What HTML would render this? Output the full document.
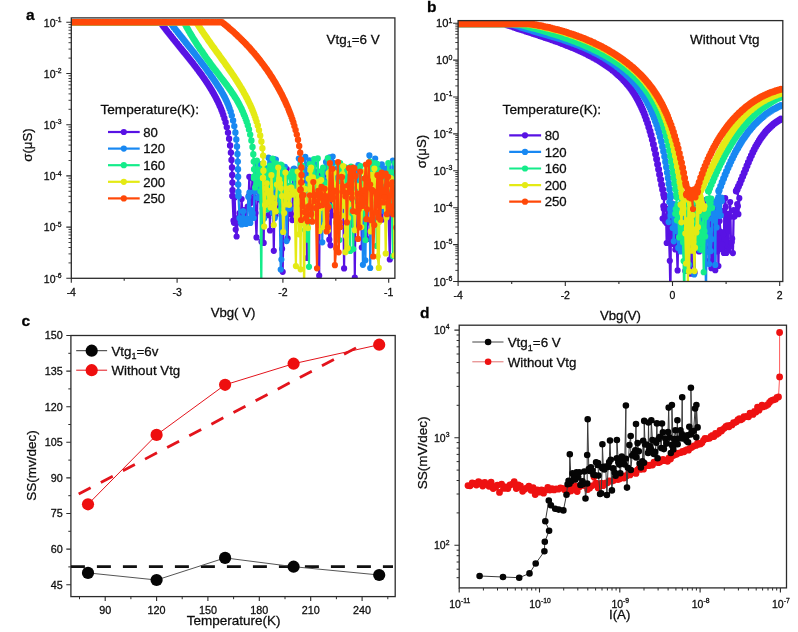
<!DOCTYPE html>
<html><head><meta charset="utf-8"><style>html,body{margin:0;padding:0;background:#fff}svg{display:block;filter:blur(0.4px)}</style></head><body>
<svg width="798" height="632" viewBox="0 0 798 632" font-family="Liberation Sans, sans-serif"><style>text{stroke:#0d0d0d;stroke-width:0.28px}</style>
<rect width="798" height="632" fill="#fff"/>
<defs><clipPath id="ca"><rect x="71.3" y="17.9" width="323.6" height="260.4"/></clipPath>
<clipPath id="cb"><rect x="458.1" y="20.6" width="324.7" height="260.9"/></clipPath>
<clipPath id="cc"><rect x="70.9" y="335.5" width="324.3" height="261.1"/></clipPath>
<clipPath id="cd"><rect x="459.2" y="325.2" width="327.3" height="262.7"/></clipPath></defs>
<g clip-path="url(#ca)">
<path d="M60 22.3 61.6 22.3 63.3 22.3 64.9 22.3 66.6 22.3 68.2 22.3 69.9 22.3 71.5 22.3 73.2 22.3 74.8 22.3 76.5 22.3 78.1 22.3 79.8 22.3 81.4 22.3 83.1 22.3 84.7 22.3 86.4 22.3 88 22.3 89.7 22.3 91.3 22.3 93 22.3 94.6 22.3 96.2 22.3 97.9 22.3 99.5 22.3 101.2 22.3 102.8 22.3 104.5 22.3 106.1 22.3 107.8 22.3 109.4 22.3 111.1 22.3 112.7 22.3 114.4 22.3 116 22.3 117.7 22.3 119.3 22.3 121 22.3 122.6 22.3 124.3 22.3 125.9 22.3 127.5 22.3 129.2 22.3 130.8 22.3 132.5 22.3 134.1 22.3 135.8 22.3 137.4 22.3 139.1 22.3 140.7 22.3 142.4 22.3 144 22.3 145.7 22.3 147.3 22.3 149 22.3 150.6 22.3 152.3 22.3 153.9 22.3 155.6 22.3 157.2 22.3 158.9 22.3 160.5 22.3 161.4 23.6 162.4 24.9 163.3 26.2 164.3 27.5 165.3 28.7 166.2 30 167.2 31.3 168.2 32.6 169.2 33.8 170.2 35.1 171.2 36.3 172.2 37.6 173.1 38.8 174.2 40.1 175.2 41.3 176.2 42.6 177.2 43.8 178.2 45.1 179.2 46.3 180.2 47.6 181.2 48.8 182.2 50 183.2 51.3 184.2 52.5 185.3 53.8 186.3 55 187.3 56.3 188.3 57.5 189.3 58.8 190.3 60 191.3 61.3 192.3 62.5 193.3 63.8 194.2 65.1 195.2 66.3 196.2 67.6 197.2 68.9 198.1 70.1 199.1 71.4 200 72.7 201 74 201.9 75.3 202.8 76.6 203.8 77.9 204.7 79.3 205.6 80.6 206.5 81.9 207.4 83.2 208.2 84.6 209.1 85.9 209.9 87.3 210.8 88.7 211.6 90 212.4 91.4 213.2 92.8 214 94.2 214.8 95.6 215.5 97 216.3 98.4 217 99.9 217.7 101.3 218.4 102.7 219.1 104.2 219.7 105.7 220.4 107.1 221 108.6 221.6 110.3 222.4 112.3 223.3 115 224.4 118.2 225.6 122.3 226.8 127.1 228 132.6 229.1 138.7 230.1 145.4 230.9 152.6 231.5 160 232 167.4 232.2 175 232.4 182.6 232.5 190.2 232.5 196" stroke="#5812e4" stroke-width="2.4" fill="none" stroke-linejoin="round" stroke-linecap="round" />
<path d="M60 22.3h0M61.6 22.3h0M63.3 22.3h0M64.9 22.3h0M66.6 22.3h0M68.2 22.3h0M69.9 22.3h0M71.5 22.3h0M73.2 22.3h0M74.8 22.3h0M76.5 22.3h0M78.1 22.3h0M79.8 22.3h0M81.4 22.3h0M83.1 22.3h0M84.7 22.3h0M86.4 22.3h0M88 22.3h0M89.7 22.3h0M91.3 22.3h0M93 22.3h0M94.6 22.3h0M96.2 22.3h0M97.9 22.3h0M99.5 22.3h0M101.2 22.3h0M102.8 22.3h0M104.5 22.3h0M106.1 22.3h0M107.8 22.3h0M109.4 22.3h0M111.1 22.3h0M112.7 22.3h0M114.4 22.3h0M116 22.3h0M117.7 22.3h0M119.3 22.3h0M121 22.3h0M122.6 22.3h0M124.3 22.3h0M125.9 22.3h0M127.5 22.3h0M129.2 22.3h0M130.8 22.3h0M132.5 22.3h0M134.1 22.3h0M135.8 22.3h0M137.4 22.3h0M139.1 22.3h0M140.7 22.3h0M142.4 22.3h0M144 22.3h0M145.7 22.3h0M147.3 22.3h0M149 22.3h0M150.6 22.3h0M152.3 22.3h0M153.9 22.3h0M155.6 22.3h0M157.2 22.3h0M158.9 22.3h0M160.5 22.3h0M161.4 23.6h0M162.4 24.9h0M163.3 26.2h0M164.3 27.5h0M165.3 28.7h0M166.2 30h0M167.2 31.3h0M168.2 32.6h0M169.2 33.8h0M170.2 35.1h0M171.2 36.3h0M172.2 37.6h0M173.1 38.8h0M174.2 40.1h0M175.2 41.3h0M176.2 42.6h0M177.2 43.8h0M178.2 45.1h0M179.2 46.3h0M180.2 47.6h0M181.2 48.8h0M182.2 50h0M183.2 51.3h0M184.2 52.5h0M185.3 53.8h0M186.3 55h0M187.3 56.3h0M188.3 57.5h0M189.3 58.8h0M190.3 60h0M191.3 61.3h0M192.3 62.5h0M193.3 63.8h0M194.2 65.1h0M195.2 66.3h0M196.2 67.6h0M197.2 68.9h0M198.1 70.1h0M199.1 71.4h0M200 72.7h0M201 74h0M201.9 75.3h0M202.8 76.6h0M203.8 77.9h0M204.7 79.3h0M205.6 80.6h0M206.5 81.9h0M207.4 83.2h0M208.2 84.6h0M209.1 85.9h0M209.9 87.3h0M210.8 88.7h0M211.6 90h0M212.4 91.4h0M213.2 92.8h0M214 94.2h0M214.8 95.6h0M215.5 97h0M216.3 98.4h0M217 99.9h0M217.7 101.3h0M218.4 102.7h0M219.1 104.2h0M219.7 105.7h0M220.4 107.1h0M221 108.6h0M221.6 110.3h0M222.4 112.3h0M223.3 115h0M224.4 118.2h0M225.6 122.3h0M226.8 127.1h0M228 132.6h0M229.1 138.7h0M230.1 145.4h0M230.9 152.6h0M231.5 160h0M232 167.4h0M232.2 175h0M232.4 182.6h0M232.5 190.2h0M232.5 196h0" stroke="#5812e4" stroke-width="6.4" stroke-linecap="round" fill="none"/>
<path d="M232.5 196 233.5 220.7 234 222.8 234.7 197.5 235.7 229.6 236.6 236.5 237.7 218 238.4 222.5 239 221.3 239.5 213 240.8 218.1 241.6 199.1 242.7 219.1 243.9 210.1 244.9 215.1 245.7 218.4 246.5 222.5 247.7 206.5 248.7 196.2 249.3 176.8 250.2 203.6 251.2 202.3 252.5 178.4 253.8 191.9 254.6 197.9 255.5 213.1 256.5 237.4 257.8 182.3 258.8 177.5 259.5 199.5 260 184.1 260.6 186.5 261.5 241.7 262.8 208.5 263.7 242.9 264.5 173.7 265.6 191.4 266.7 175.3 267.8 190.8 268.3 215.2 269 171.1 270 230.5 270.7 174.7 271.5 206 272 212.9 272.7 174.5 273.8 250.8 274.9 177.5 275.5 215.3 276.7 202.7 277.8 186.7 278.4 211 279.2 206.2 280.5 180.8 281 204.5 282.1 248.8 282.7 271.8 283.9 201.5 284.4 183.5 285.1 193.1 286.1 189.1 286.7 169 287.6 238.4 288.4 205.7 289.6 211.5 290.3 205.6 291.2 214.6 292.3 220.1 293.4 169.4 294.5 176.9 295.3 169.8 296.2 179.8 296.8 203.6 297.7 203.9 298.7 181.8 299.5 214.1 300.3 199.1 301.3 211.7 302.4 206 303.2 199.8 304.4 190.2 305 174 305.9 199.2 307 258 307.7 186.2 308.6 177.8 309.3 182.8 309.9 204.1 310.9 213.4 311.8 186 312.4 188.3 313.3 190.2 314 170.8 315.2 183.6 316.3 204.4 316.8 175.1 318.1 214.2 319.2 275.7 319.8 195.2 320.9 171.6 321.5 216.5 322.2 177.7 322.7 189.6 323.7 177.6 324.8 194.4 325.6 180.3 326.3 175.9 326.9 194 327.6 179.3 328.1 209.3 329.3 239.7 330.5 245.3 331.1 194.6 331.9 215.4 332.5 172.9 333.1 204.1 334.1 184 334.6 182.6 335.9 185.9 336.7 179.8 337.9 174.8 338.7 199.3 339.3 169.1 340 181.9 341.1 197.8 341.8 181.9 342.9 182.2 344.1 268.4 345.1 172.8 346.1 172.2 347.3 227.1 348.1 224.3 349 192.3 350.1 199.1 350.9 224.6 352 186.7 352.7 217.2 353.3 175.9 354 186.8 354.8 277.7 355.6 198.2 356.6 182.5 357.2 227 358.2 200 358.8 200.3 359.5 203.3 360 189.4 361.1 198.6 361.8 247.5 362.5 191.6 363.2 196.2 364.2 200.3 365.4 207.3 366.1 223 367.4 239.1 367.9 183.7 368.5 183.8 369.3 185.8 370.5 192.9 371.1 223.5 372.4 184.5 373.5 192.4 374.3 186 374.8 200 375.6 177.2 376.9 220.2 377.8 217.9 378.3 182.5 378.9 184.2 380 174.9 381.2 206.9 382.3 219.6 383.4 195.4 384.3 178.5 385.1 208.1 385.7 169.2 386.4 172 386.9 185.7 387.5 179.4 388.6 216.4 389.8 259.5 390.4 200.4 390.9 199.9 392 200.2 393 182.7 394.3 172.1 395.2 170.2 396.3 192.6 397.5 181.9 398.7 229.7" stroke="#5812e4" stroke-width="2.2" fill="none" stroke-linejoin="round" stroke-linecap="round" />
<path d="M232.5 196h0M233.5 220.7h0M234 222.8h0M234.7 197.5h0M235.7 229.6h0M236.6 236.5h0M237.7 218h0M238.4 222.5h0M239 221.3h0M239.5 213h0M240.8 218.1h0M241.6 199.1h0M242.7 219.1h0M243.9 210.1h0M244.9 215.1h0M245.7 218.4h0M246.5 222.5h0M247.7 206.5h0M248.7 196.2h0M249.3 176.8h0M250.2 203.6h0M251.2 202.3h0M252.5 178.4h0M253.8 191.9h0M254.6 197.9h0M255.5 213.1h0M256.5 237.4h0M257.8 182.3h0M258.8 177.5h0M259.5 199.5h0M260 184.1h0M260.6 186.5h0M261.5 241.7h0M262.8 208.5h0M263.7 242.9h0M264.5 173.7h0M265.6 191.4h0M266.7 175.3h0M267.8 190.8h0M268.3 215.2h0M269 171.1h0M270 230.5h0M270.7 174.7h0M271.5 206h0M272 212.9h0M272.7 174.5h0M273.8 250.8h0M274.9 177.5h0M275.5 215.3h0M276.7 202.7h0M277.8 186.7h0M278.4 211h0M279.2 206.2h0M280.5 180.8h0M281 204.5h0M282.1 248.8h0M282.7 271.8h0M283.9 201.5h0M284.4 183.5h0M285.1 193.1h0M286.1 189.1h0M286.7 169h0M287.6 238.4h0M288.4 205.7h0M289.6 211.5h0M290.3 205.6h0M291.2 214.6h0M292.3 220.1h0M293.4 169.4h0M294.5 176.9h0M295.3 169.8h0M296.2 179.8h0M296.8 203.6h0M297.7 203.9h0M298.7 181.8h0M299.5 214.1h0M300.3 199.1h0M301.3 211.7h0M302.4 206h0M303.2 199.8h0M304.4 190.2h0M305 174h0M305.9 199.2h0M307 258h0M307.7 186.2h0M308.6 177.8h0M309.3 182.8h0M309.9 204.1h0M310.9 213.4h0M311.8 186h0M312.4 188.3h0M313.3 190.2h0M314 170.8h0M315.2 183.6h0M316.3 204.4h0M316.8 175.1h0M318.1 214.2h0M319.2 275.7h0M319.8 195.2h0M320.9 171.6h0M321.5 216.5h0M322.2 177.7h0M322.7 189.6h0M323.7 177.6h0M324.8 194.4h0M325.6 180.3h0M326.3 175.9h0M326.9 194h0M327.6 179.3h0M328.1 209.3h0M329.3 239.7h0M330.5 245.3h0M331.1 194.6h0M331.9 215.4h0M332.5 172.9h0M333.1 204.1h0M334.1 184h0M334.6 182.6h0M335.9 185.9h0M336.7 179.8h0M337.9 174.8h0M338.7 199.3h0M339.3 169.1h0M340 181.9h0M341.1 197.8h0M341.8 181.9h0M342.9 182.2h0M344.1 268.4h0M345.1 172.8h0M346.1 172.2h0M347.3 227.1h0M348.1 224.3h0M349 192.3h0M350.1 199.1h0M350.9 224.6h0M352 186.7h0M352.7 217.2h0M353.3 175.9h0M354 186.8h0M354.8 277.7h0M355.6 198.2h0M356.6 182.5h0M357.2 227h0M358.2 200h0M358.8 200.3h0M359.5 203.3h0M360 189.4h0M361.1 198.6h0M361.8 247.5h0M362.5 191.6h0M363.2 196.2h0M364.2 200.3h0M365.4 207.3h0M366.1 223h0M367.4 239.1h0M367.9 183.7h0M368.5 183.8h0M369.3 185.8h0M370.5 192.9h0M371.1 223.5h0M372.4 184.5h0M373.5 192.4h0M374.3 186h0M374.8 200h0M375.6 177.2h0M376.9 220.2h0M377.8 217.9h0M378.3 182.5h0M378.9 184.2h0M380 174.9h0M381.2 206.9h0M382.3 219.6h0M383.4 195.4h0M384.3 178.5h0M385.1 208.1h0M385.7 169.2h0M386.4 172h0M386.9 185.7h0M387.5 179.4h0M388.6 216.4h0M389.8 259.5h0M390.4 200.4h0M390.9 199.9h0M392 200.2h0M393 182.7h0M394.3 172.1h0M395.2 170.2h0M396.3 192.6h0M397.5 181.9h0M398.7 229.7h0" stroke="#5812e4" stroke-width="6.2" stroke-linecap="round" fill="none"/>
<path d="M60 22.3 61.6 22.3 63.3 22.3 64.9 22.3 66.6 22.3 68.2 22.3 69.9 22.3 71.5 22.3 73.1 22.3 74.8 22.3 76.4 22.3 78.1 22.3 79.7 22.3 81.3 22.3 83 22.3 84.6 22.3 86.3 22.3 87.9 22.3 89.6 22.3 91.2 22.3 92.8 22.3 94.5 22.3 96.1 22.3 97.8 22.3 99.4 22.3 101 22.3 102.7 22.3 104.3 22.3 106 22.3 107.6 22.3 109.3 22.3 110.9 22.3 112.5 22.3 114.2 22.3 115.8 22.3 117.5 22.3 119.1 22.3 120.7 22.3 122.4 22.3 124 22.3 125.7 22.3 127.3 22.3 129 22.3 130.6 22.3 132.2 22.3 133.9 22.3 135.5 22.3 137.2 22.3 138.8 22.3 140.4 22.3 142.1 22.3 143.7 22.3 145.4 22.3 147 22.3 148.7 22.3 150.3 22.3 151.9 22.3 153.6 22.3 155.2 22.3 156.9 22.3 158.5 22.3 160.1 22.3 161.8 22.3 163.4 22.3 165.1 22.3 166.7 22.3 168.4 22.3 170 22.3 171 23.6 172 24.8 172.9 26.1 173.9 27.4 174.9 28.6 175.9 29.9 176.9 31.1 177.9 32.4 178.9 33.7 179.9 34.9 180.9 36.2 181.9 37.4 182.9 38.7 183.9 39.9 184.9 41.2 185.8 42.5 186.8 43.7 187.8 45 188.8 46.2 189.8 47.5 190.8 48.7 191.8 50 192.8 51.3 193.8 52.5 194.8 53.8 195.7 55.1 196.7 56.3 197.7 57.6 198.7 58.9 199.7 60.1 200.6 61.4 201.6 62.7 202.5 64 203.5 65.3 204.5 66.6 205.4 67.8 206.4 69.1 207.3 70.4 208.2 71.7 209.2 73 210.1 74.3 211 75.7 211.9 77 212.9 78.3 213.8 79.6 214.7 80.9 215.6 82.3 216.5 83.6 217.3 84.9 218.2 86.3 219.1 87.6 219.9 89 220.8 90.3 221.6 91.7 222.4 93.1 223.2 94.5 224 95.9 224.7 97.3 225.4 98.7 226.1 100.2 226.8 101.6 227.4 103.1 228.1 104.6 228.8 106.5 229.6 108.7 230.7 111.7 231.8 115.6 233.1 120.4 234.3 126.1 235.4 132.4 236.3 139.4 237 146.5 237.5 153.9 237.8 161.6 238 169.2 238.1 176.8 238.2 184.4 238.4 192 238.5 196" stroke="#1888f2" stroke-width="2.4" fill="none" stroke-linejoin="round" stroke-linecap="round" />
<path d="M60 22.3h0M61.6 22.3h0M63.3 22.3h0M64.9 22.3h0M66.6 22.3h0M68.2 22.3h0M69.9 22.3h0M71.5 22.3h0M73.1 22.3h0M74.8 22.3h0M76.4 22.3h0M78.1 22.3h0M79.7 22.3h0M81.3 22.3h0M83 22.3h0M84.6 22.3h0M86.3 22.3h0M87.9 22.3h0M89.6 22.3h0M91.2 22.3h0M92.8 22.3h0M94.5 22.3h0M96.1 22.3h0M97.8 22.3h0M99.4 22.3h0M101 22.3h0M102.7 22.3h0M104.3 22.3h0M106 22.3h0M107.6 22.3h0M109.3 22.3h0M110.9 22.3h0M112.5 22.3h0M114.2 22.3h0M115.8 22.3h0M117.5 22.3h0M119.1 22.3h0M120.7 22.3h0M122.4 22.3h0M124 22.3h0M125.7 22.3h0M127.3 22.3h0M129 22.3h0M130.6 22.3h0M132.2 22.3h0M133.9 22.3h0M135.5 22.3h0M137.2 22.3h0M138.8 22.3h0M140.4 22.3h0M142.1 22.3h0M143.7 22.3h0M145.4 22.3h0M147 22.3h0M148.7 22.3h0M150.3 22.3h0M151.9 22.3h0M153.6 22.3h0M155.2 22.3h0M156.9 22.3h0M158.5 22.3h0M160.1 22.3h0M161.8 22.3h0M163.4 22.3h0M165.1 22.3h0M166.7 22.3h0M168.4 22.3h0M170 22.3h0M171 23.6h0M172 24.8h0M172.9 26.1h0M173.9 27.4h0M174.9 28.6h0M175.9 29.9h0M176.9 31.1h0M177.9 32.4h0M178.9 33.7h0M179.9 34.9h0M180.9 36.2h0M181.9 37.4h0M182.9 38.7h0M183.9 39.9h0M184.9 41.2h0M185.8 42.5h0M186.8 43.7h0M187.8 45h0M188.8 46.2h0M189.8 47.5h0M190.8 48.7h0M191.8 50h0M192.8 51.3h0M193.8 52.5h0M194.8 53.8h0M195.7 55.1h0M196.7 56.3h0M197.7 57.6h0M198.7 58.9h0M199.7 60.1h0M200.6 61.4h0M201.6 62.7h0M202.5 64h0M203.5 65.3h0M204.5 66.6h0M205.4 67.8h0M206.4 69.1h0M207.3 70.4h0M208.2 71.7h0M209.2 73h0M210.1 74.3h0M211 75.7h0M211.9 77h0M212.9 78.3h0M213.8 79.6h0M214.7 80.9h0M215.6 82.3h0M216.5 83.6h0M217.3 84.9h0M218.2 86.3h0M219.1 87.6h0M219.9 89h0M220.8 90.3h0M221.6 91.7h0M222.4 93.1h0M223.2 94.5h0M224 95.9h0M224.7 97.3h0M225.4 98.7h0M226.1 100.2h0M226.8 101.6h0M227.4 103.1h0M228.1 104.6h0M228.8 106.5h0M229.6 108.7h0M230.7 111.7h0M231.8 115.6h0M233.1 120.4h0M234.3 126.1h0M235.4 132.4h0M236.3 139.4h0M237 146.5h0M237.5 153.9h0M237.8 161.6h0M238 169.2h0M238.1 176.8h0M238.2 184.4h0M238.4 192h0M238.5 196h0" stroke="#1888f2" stroke-width="6.4" stroke-linecap="round" fill="none"/>
<path d="M238.5 196 239.5 218.2 240.8 222.6 241.7 224.4 242.8 211.3 243.3 211.3 244.6 219.3 245.1 220.4 246 224 247.3 218.7 248.4 197 249.4 192.7 250.3 222.9 251.4 210 252.7 213.2 253.7 218 254.5 191.4 255.3 161 256.6 176.4 257.2 185.3 257.9 197.9 258.5 189.7 259.1 170.9 260.1 164 261.1 194.4 262.2 202.1 263.2 181.7 264.1 218.4 264.6 201.8 265.2 168 266 173.5 266.6 186.2 267.2 182.3 268.5 157.7 269.7 194.9 270.9 160 271.7 179.8 272.8 213.1 274 159 274.8 218 275.9 159.5 276.5 199.9 277.4 166.8 278.2 189.2 278.8 196.6 279.4 192 280.7 269.5 281.4 259.5 282.1 195.3 283.4 175.9 284.1 196.7 284.9 166.8 285.8 194.3 286.6 241.1 287.7 199.2 288.9 207.5 289.9 208.7 290.5 187.7 291.7 192.4 292.3 189.4 293.4 193.1 294.1 168.5 294.7 172.9 295.9 171.2 297 174 298.3 183.2 298.8 158.5 299.9 176.5 300.8 191 301.5 184.1 302.3 190.9 303.4 176.9 304.6 169.4 305.3 156.8 306.4 193.2 307.1 202 308 213.2 308.6 164.1 309.5 160.3 310 163.9 311 191.5 311.8 208.8 312.8 178.7 313.7 160.2 314.4 175 315 164.4 316.2 191.1 317.3 211.1 318 202.5 318.6 190 319.7 196.5 320.4 204 321.1 180.1 321.7 192.6 322.3 242.3 323 173.2 323.8 179.5 324.8 168.5 326 162.1 326.8 161.4 327.3 160.6 327.9 205.2 328.6 170.1 329.6 157.3 330.6 174.5 331.7 191.2 332.7 156.5 333.2 162.8 334.3 179.5 335.4 200.4 336.2 176 337.4 168.5 338.3 169.7 339 182.2 339.5 177.5 340.5 182.6 341.3 182.8 341.9 215.1 342.9 177.8 343.9 194.6 345 194.4 346.1 169.4 347 186.9 348 175.4 349 172.7 349.6 176 350.2 174.2 351.4 177.2 352.3 201.4 353.4 171.8 354.2 168.4 355.1 183.1 355.8 175.9 356.8 173.1 357.4 206.2 358.3 165 359.4 170.1 360.7 211.3 361.3 206.4 362 179.3 362.9 264.8 364.2 187.7 365.4 260.3 366.4 195.6 367.5 197.1 368.5 205.5 369.4 155.4 370.2 268 371.5 191 372.5 190.1 373.6 194.1 374.7 179.5 375.2 158.5 376.2 165.6 377.2 174.3 378.3 219.9 379.1 168.5 380.2 184.8 381 179.9 381.8 164.4 382.9 190.7 383.6 210.9 384.1 175.7 384.9 195.4 385.9 168.5 387.1 181.8 388.1 211.4 388.6 167.3 389.9 199.8 390.8 171.8 392.1 174.4 392.9 160.5 393.4 200.5 394.4 175.5 395.4 205.1 396.1 197.9 397.2 185.8 398 257.3" stroke="#1888f2" stroke-width="2.2" fill="none" stroke-linejoin="round" stroke-linecap="round" />
<path d="M238.5 196h0M239.5 218.2h0M240.8 222.6h0M241.7 224.4h0M242.8 211.3h0M243.3 211.3h0M244.6 219.3h0M245.1 220.4h0M246 224h0M247.3 218.7h0M248.4 197h0M249.4 192.7h0M250.3 222.9h0M251.4 210h0M252.7 213.2h0M253.7 218h0M254.5 191.4h0M255.3 161h0M256.6 176.4h0M257.2 185.3h0M257.9 197.9h0M258.5 189.7h0M259.1 170.9h0M260.1 164h0M261.1 194.4h0M262.2 202.1h0M263.2 181.7h0M264.1 218.4h0M264.6 201.8h0M265.2 168h0M266 173.5h0M266.6 186.2h0M267.2 182.3h0M268.5 157.7h0M269.7 194.9h0M270.9 160h0M271.7 179.8h0M272.8 213.1h0M274 159h0M274.8 218h0M275.9 159.5h0M276.5 199.9h0M277.4 166.8h0M278.2 189.2h0M278.8 196.6h0M279.4 192h0M280.7 269.5h0M281.4 259.5h0M282.1 195.3h0M283.4 175.9h0M284.1 196.7h0M284.9 166.8h0M285.8 194.3h0M286.6 241.1h0M287.7 199.2h0M288.9 207.5h0M289.9 208.7h0M290.5 187.7h0M291.7 192.4h0M292.3 189.4h0M293.4 193.1h0M294.1 168.5h0M294.7 172.9h0M295.9 171.2h0M297 174h0M298.3 183.2h0M298.8 158.5h0M299.9 176.5h0M300.8 191h0M301.5 184.1h0M302.3 190.9h0M303.4 176.9h0M304.6 169.4h0M305.3 156.8h0M306.4 193.2h0M307.1 202h0M308 213.2h0M308.6 164.1h0M309.5 160.3h0M310 163.9h0M311 191.5h0M311.8 208.8h0M312.8 178.7h0M313.7 160.2h0M314.4 175h0M315 164.4h0M316.2 191.1h0M317.3 211.1h0M318 202.5h0M318.6 190h0M319.7 196.5h0M320.4 204h0M321.1 180.1h0M321.7 192.6h0M322.3 242.3h0M323 173.2h0M323.8 179.5h0M324.8 168.5h0M326 162.1h0M326.8 161.4h0M327.3 160.6h0M327.9 205.2h0M328.6 170.1h0M329.6 157.3h0M330.6 174.5h0M331.7 191.2h0M332.7 156.5h0M333.2 162.8h0M334.3 179.5h0M335.4 200.4h0M336.2 176h0M337.4 168.5h0M338.3 169.7h0M339 182.2h0M339.5 177.5h0M340.5 182.6h0M341.3 182.8h0M341.9 215.1h0M342.9 177.8h0M343.9 194.6h0M345 194.4h0M346.1 169.4h0M347 186.9h0M348 175.4h0M349 172.7h0M349.6 176h0M350.2 174.2h0M351.4 177.2h0M352.3 201.4h0M353.4 171.8h0M354.2 168.4h0M355.1 183.1h0M355.8 175.9h0M356.8 173.1h0M357.4 206.2h0M358.3 165h0M359.4 170.1h0M360.7 211.3h0M361.3 206.4h0M362 179.3h0M362.9 264.8h0M364.2 187.7h0M365.4 260.3h0M366.4 195.6h0M367.5 197.1h0M368.5 205.5h0M369.4 155.4h0M370.2 268h0M371.5 191h0M372.5 190.1h0M373.6 194.1h0M374.7 179.5h0M375.2 158.5h0M376.2 165.6h0M377.2 174.3h0M378.3 219.9h0M379.1 168.5h0M380.2 184.8h0M381 179.9h0M381.8 164.4h0M382.9 190.7h0M383.6 210.9h0M384.1 175.7h0M384.9 195.4h0M385.9 168.5h0M387.1 181.8h0M388.1 211.4h0M388.6 167.3h0M389.9 199.8h0M390.8 171.8h0M392.1 174.4h0M392.9 160.5h0M393.4 200.5h0M394.4 175.5h0M395.4 205.1h0M396.1 197.9h0M397.2 185.8h0M398 257.3h0" stroke="#1888f2" stroke-width="6.2" stroke-linecap="round" fill="none"/>
<path d="M60 22.3 61.6 22.3 63.3 22.3 64.9 22.3 66.5 22.3 68.2 22.3 69.8 22.3 71.4 22.3 73.1 22.3 74.7 22.3 76.3 22.3 77.9 22.3 79.6 22.3 81.2 22.3 82.8 22.3 84.5 22.3 86.1 22.3 87.7 22.3 89.4 22.3 91 22.3 92.6 22.3 94.3 22.3 95.9 22.3 97.5 22.3 99.2 22.3 100.8 22.3 102.4 22.3 104.1 22.3 105.7 22.3 107.3 22.3 108.9 22.3 110.6 22.3 112.2 22.3 113.8 22.3 115.5 22.3 117.1 22.3 118.7 22.3 120.4 22.3 122 22.3 123.6 22.3 125.3 22.3 126.9 22.3 128.5 22.3 130.2 22.3 131.8 22.3 133.4 22.3 135.1 22.3 136.7 22.3 138.3 22.3 139.9 22.3 141.6 22.3 143.2 22.3 144.8 22.3 146.5 22.3 148.1 22.3 149.7 22.3 151.4 22.3 153 22.3 154.6 22.3 156.3 22.3 157.9 22.3 159.5 22.3 161.2 22.3 162.8 22.3 164.4 22.3 166.1 22.3 167.7 22.3 169.3 22.3 170.9 22.3 172.6 22.3 174.2 22.3 175.8 22.3 177.5 22.3 179.1 22.3 180.7 22.3 182.4 22.3 184 22.3 184.8 23.7 185.5 25.1 186.3 26.5 187.1 27.9 187.9 29.3 188.7 30.7 189.5 32.1 190.3 33.5 191.1 34.8 192 36.2 192.8 37.6 193.6 38.9 194.5 40.3 195.4 41.7 196.2 43 197.1 44.4 198 45.7 198.9 47 199.7 48.4 200.6 49.7 201.6 51 202.5 52.3 203.4 53.7 204.3 55 205.2 56.3 206.1 57.6 207.1 58.9 208 60.2 209 61.5 209.9 62.8 210.9 64.1 211.8 65.4 212.8 66.7 213.7 67.9 214.7 69.2 215.7 70.5 216.6 71.8 217.6 73 218.6 74.3 219.6 75.6 220.5 76.9 221.5 78.1 222.5 79.4 223.5 80.7 224.4 82 225.4 83.2 226.3 84.5 227.3 85.8 228.2 87.1 229.2 88.4 230.1 89.7 231 91 231.9 92.4 232.8 93.7 233.7 95 234.6 96.4 235.4 97.8 236.3 99.1 237.1 100.5 237.9 101.9 238.6 103.3 239.4 104.7 240.1 106.1 240.9 107.6 241.6 109 242.2 110.5 242.9 111.9 243.5 113.4 244.1 114.9 244.9 116.7 245.7 119 246.7 121.8 247.8 125.3 249 129.5 250.2 134.6 251.4 140.5 252.5 147 253.3 154.2 253.8 161.6 254.1 169.2 254 176.8 254 178" stroke="#14ec8a" stroke-width="2.4" fill="none" stroke-linejoin="round" stroke-linecap="round" />
<path d="M60 22.3h0M61.6 22.3h0M63.3 22.3h0M64.9 22.3h0M66.5 22.3h0M68.2 22.3h0M69.8 22.3h0M71.4 22.3h0M73.1 22.3h0M74.7 22.3h0M76.3 22.3h0M77.9 22.3h0M79.6 22.3h0M81.2 22.3h0M82.8 22.3h0M84.5 22.3h0M86.1 22.3h0M87.7 22.3h0M89.4 22.3h0M91 22.3h0M92.6 22.3h0M94.3 22.3h0M95.9 22.3h0M97.5 22.3h0M99.2 22.3h0M100.8 22.3h0M102.4 22.3h0M104.1 22.3h0M105.7 22.3h0M107.3 22.3h0M108.9 22.3h0M110.6 22.3h0M112.2 22.3h0M113.8 22.3h0M115.5 22.3h0M117.1 22.3h0M118.7 22.3h0M120.4 22.3h0M122 22.3h0M123.6 22.3h0M125.3 22.3h0M126.9 22.3h0M128.5 22.3h0M130.2 22.3h0M131.8 22.3h0M133.4 22.3h0M135.1 22.3h0M136.7 22.3h0M138.3 22.3h0M139.9 22.3h0M141.6 22.3h0M143.2 22.3h0M144.8 22.3h0M146.5 22.3h0M148.1 22.3h0M149.7 22.3h0M151.4 22.3h0M153 22.3h0M154.6 22.3h0M156.3 22.3h0M157.9 22.3h0M159.5 22.3h0M161.2 22.3h0M162.8 22.3h0M164.4 22.3h0M166.1 22.3h0M167.7 22.3h0M169.3 22.3h0M170.9 22.3h0M172.6 22.3h0M174.2 22.3h0M175.8 22.3h0M177.5 22.3h0M179.1 22.3h0M180.7 22.3h0M182.4 22.3h0M184 22.3h0M184.8 23.7h0M185.5 25.1h0M186.3 26.5h0M187.1 27.9h0M187.9 29.3h0M188.7 30.7h0M189.5 32.1h0M190.3 33.5h0M191.1 34.8h0M192 36.2h0M192.8 37.6h0M193.6 38.9h0M194.5 40.3h0M195.4 41.7h0M196.2 43h0M197.1 44.4h0M198 45.7h0M198.9 47h0M199.7 48.4h0M200.6 49.7h0M201.6 51h0M202.5 52.3h0M203.4 53.7h0M204.3 55h0M205.2 56.3h0M206.1 57.6h0M207.1 58.9h0M208 60.2h0M209 61.5h0M209.9 62.8h0M210.9 64.1h0M211.8 65.4h0M212.8 66.7h0M213.7 67.9h0M214.7 69.2h0M215.7 70.5h0M216.6 71.8h0M217.6 73h0M218.6 74.3h0M219.6 75.6h0M220.5 76.9h0M221.5 78.1h0M222.5 79.4h0M223.5 80.7h0M224.4 82h0M225.4 83.2h0M226.3 84.5h0M227.3 85.8h0M228.2 87.1h0M229.2 88.4h0M230.1 89.7h0M231 91h0M231.9 92.4h0M232.8 93.7h0M233.7 95h0M234.6 96.4h0M235.4 97.8h0M236.3 99.1h0M237.1 100.5h0M237.9 101.9h0M238.6 103.3h0M239.4 104.7h0M240.1 106.1h0M240.9 107.6h0M241.6 109h0M242.2 110.5h0M242.9 111.9h0M243.5 113.4h0M244.1 114.9h0M244.9 116.7h0M245.7 119h0M246.7 121.8h0M247.8 125.3h0M249 129.5h0M250.2 134.6h0M251.4 140.5h0M252.5 147h0M253.3 154.2h0M253.8 161.6h0M254.1 169.2h0M254 176.8h0M254 178h0" stroke="#14ec8a" stroke-width="6.4" stroke-linecap="round" fill="none"/>
<path d="M254 178 255.1 187.4 256.1 185.2 256.9 160.5 257.8 183.4 258.6 174.1 259.3 169.9 260.4 191.2 261.3 285.1 262 175.3 263.1 165.1 264.2 171.9 264.8 170.5 266 170.4 266.5 181.6 267 209.4 268.1 174.7 268.7 185.1 269.2 183.2 269.9 165.5 271.1 201.1 272 188 272.6 158.5 273.6 169.7 274.8 185.5 276 163.4 276.6 180.8 277.8 194.7 278.7 179.3 279.7 210.4 280.8 164.6 281.6 165 282.3 184.6 282.8 190.7 283.6 169.7 284.6 182.2 285.8 200.4 286.5 191.1 287.5 173.9 288.3 175.6 289.5 176.4 290.1 185.5 291.4 174.5 292.7 171.5 293.7 178 294.2 177.2 295.1 194.8 296.4 202.8 297.2 220.7 297.9 174.2 298.7 179.3 299.9 171.2 300.6 164.8 301.2 171.6 302.2 165.9 303.5 199.4 304.3 186.3 305 229.9 305.6 216.2 306.1 237.6 306.9 239.7 308.2 206.9 309 266.8 309.7 164.2 310.5 176.7 311.7 164 312.7 175.6 313.3 167.1 314.1 159.1 315.1 189.6 315.8 195.9 317 184.4 317.8 158.4 318.8 212.2 319.3 178.7 320.5 197.6 321.2 180.3 321.7 171.1 322.4 207.6 323.1 167.6 324 194.4 324.9 183.1 326 199 327.2 231 327.8 158.2 328.7 205.7 329.2 183.8 330 184.6 330.9 167.7 332.1 175.9 333.1 190.8 334.4 206 335.2 185.1 336.3 182.9 337.1 204.7 337.9 163.6 338.7 202.5 339.4 240 340.2 163 341.3 180.7 342 180.3 343.2 168.2 344.3 187.3 345.3 167.3 345.8 169.8 347.1 187.4 348.1 188.2 349.2 169 350.2 250.9 351 166.7 351.5 168.7 352.4 187.9 353.3 249 353.9 184.7 354.9 175.6 355.7 184.9 356.8 198.9 357.6 200.8 358.9 198.5 359.8 167.6 360.6 166.1 361.8 190.1 362.7 183.5 363.5 215.3 364.3 186.1 365.6 240 366.6 169.9 367.4 206.9 368.6 178.6 369.2 167.2 370.1 161.6 371.3 201 371.8 188 373 166.2 373.9 168.6 374.6 212.3 375.1 163.1 376 174.9 376.7 245.9 377.2 163.8 378 169.9 378.7 172.6 379.5 195.2 380.2 181.5 380.8 198 381.5 172.6 382 200.4 383.1 192.1 383.8 174.7 384.9 187.2 386.1 189.4 387.1 186.4 388.3 163.2 389.4 203.8 390.1 192 391.2 172 391.8 205.9 393 256.2 393.9 186.5 395.1 163.1 396.1 249.3 396.8 175.5 397.6 197.7 398.1 182.7" stroke="#14ec8a" stroke-width="2.2" fill="none" stroke-linejoin="round" stroke-linecap="round" />
<path d="M254 178h0M255.1 187.4h0M256.1 185.2h0M256.9 160.5h0M257.8 183.4h0M258.6 174.1h0M259.3 169.9h0M260.4 191.2h0M262 175.3h0M263.1 165.1h0M264.2 171.9h0M264.8 170.5h0M266 170.4h0M266.5 181.6h0M267 209.4h0M268.1 174.7h0M268.7 185.1h0M269.2 183.2h0M269.9 165.5h0M271.1 201.1h0M272 188h0M272.6 158.5h0M273.6 169.7h0M274.8 185.5h0M276 163.4h0M276.6 180.8h0M277.8 194.7h0M278.7 179.3h0M279.7 210.4h0M280.8 164.6h0M281.6 165h0M282.3 184.6h0M282.8 190.7h0M283.6 169.7h0M284.6 182.2h0M285.8 200.4h0M286.5 191.1h0M287.5 173.9h0M288.3 175.6h0M289.5 176.4h0M290.1 185.5h0M291.4 174.5h0M292.7 171.5h0M293.7 178h0M294.2 177.2h0M295.1 194.8h0M296.4 202.8h0M297.2 220.7h0M297.9 174.2h0M298.7 179.3h0M299.9 171.2h0M300.6 164.8h0M301.2 171.6h0M302.2 165.9h0M303.5 199.4h0M304.3 186.3h0M305 229.9h0M305.6 216.2h0M306.1 237.6h0M306.9 239.7h0M308.2 206.9h0M309 266.8h0M309.7 164.2h0M310.5 176.7h0M311.7 164h0M312.7 175.6h0M313.3 167.1h0M314.1 159.1h0M315.1 189.6h0M315.8 195.9h0M317 184.4h0M317.8 158.4h0M318.8 212.2h0M319.3 178.7h0M320.5 197.6h0M321.2 180.3h0M321.7 171.1h0M322.4 207.6h0M323.1 167.6h0M324 194.4h0M324.9 183.1h0M326 199h0M327.2 231h0M327.8 158.2h0M328.7 205.7h0M329.2 183.8h0M330 184.6h0M330.9 167.7h0M332.1 175.9h0M333.1 190.8h0M334.4 206h0M335.2 185.1h0M336.3 182.9h0M337.1 204.7h0M337.9 163.6h0M338.7 202.5h0M339.4 240h0M340.2 163h0M341.3 180.7h0M342 180.3h0M343.2 168.2h0M344.3 187.3h0M345.3 167.3h0M345.8 169.8h0M347.1 187.4h0M348.1 188.2h0M349.2 169h0M350.2 250.9h0M351 166.7h0M351.5 168.7h0M352.4 187.9h0M353.3 249h0M353.9 184.7h0M354.9 175.6h0M355.7 184.9h0M356.8 198.9h0M357.6 200.8h0M358.9 198.5h0M359.8 167.6h0M360.6 166.1h0M361.8 190.1h0M362.7 183.5h0M363.5 215.3h0M364.3 186.1h0M365.6 240h0M366.6 169.9h0M367.4 206.9h0M368.6 178.6h0M369.2 167.2h0M370.1 161.6h0M371.3 201h0M371.8 188h0M373 166.2h0M373.9 168.6h0M374.6 212.3h0M375.1 163.1h0M376 174.9h0M376.7 245.9h0M377.2 163.8h0M378 169.9h0M378.7 172.6h0M379.5 195.2h0M380.2 181.5h0M380.8 198h0M381.5 172.6h0M382 200.4h0M383.1 192.1h0M383.8 174.7h0M384.9 187.2h0M386.1 189.4h0M387.1 186.4h0M388.3 163.2h0M389.4 203.8h0M390.1 192h0M391.2 172h0M391.8 205.9h0M393 256.2h0M393.9 186.5h0M395.1 163.1h0M396.1 249.3h0M396.8 175.5h0M397.6 197.7h0M398.1 182.7h0" stroke="#14ec8a" stroke-width="6.2" stroke-linecap="round" fill="none"/>
<path d="M60 22.3 61.6 22.3 63.2 22.3 64.9 22.3 66.5 22.3 68.1 22.3 69.8 22.3 71.4 22.3 73 22.3 74.6 22.3 76.2 22.3 77.9 22.3 79.5 22.3 81.1 22.3 82.8 22.3 84.4 22.3 86 22.3 87.6 22.3 89.2 22.3 90.9 22.3 92.5 22.3 94.1 22.3 95.8 22.3 97.4 22.3 99 22.3 100.6 22.3 102.2 22.3 103.9 22.3 105.5 22.3 107.1 22.3 108.8 22.3 110.4 22.3 112 22.3 113.6 22.3 115.2 22.3 116.9 22.3 118.5 22.3 120.1 22.3 121.8 22.3 123.4 22.3 125 22.3 126.6 22.3 128.2 22.3 129.9 22.3 131.5 22.3 133.1 22.3 134.8 22.3 136.4 22.3 138 22.3 139.6 22.3 141.2 22.3 142.9 22.3 144.5 22.3 146.1 22.3 147.8 22.3 149.4 22.3 151 22.3 152.6 22.3 154.2 22.3 155.9 22.3 157.5 22.3 159.1 22.3 160.8 22.3 162.4 22.3 164 22.3 165.6 22.3 167.2 22.3 168.9 22.3 170.5 22.3 172.1 22.3 173.8 22.3 175.4 22.3 177 22.3 178.6 22.3 180.2 22.3 181.9 22.3 183.5 22.3 185.1 22.3 186.8 22.3 188.4 22.3 190 22.3 191.6 22.3 193.2 22.3 194.9 22.3 196.5 22.3 197.3 23.7 198.2 25 199.1 26.4 199.9 27.7 200.8 29.1 201.7 30.4 202.6 31.7 203.5 33.1 204.4 34.4 205.3 35.7 206.2 37 207.1 38.3 208 39.7 208.9 41 209.9 42.3 210.8 43.6 211.7 44.9 212.6 46.2 213.6 47.5 214.5 48.8 215.4 50.1 216.4 51.4 217.3 52.7 218.3 54 219.2 55.3 220.1 56.6 221.1 57.9 222 59.2 222.9 60.5 223.9 61.8 224.8 63.1 225.7 64.4 226.6 65.7 227.6 67 228.5 68.4 229.4 69.7 230.3 71 231.2 72.3 232.1 73.6 233 75 233.9 76.3 234.8 77.6 235.6 79 236.5 80.3 237.4 81.7 238.2 83 239.1 84.4 239.9 85.8 240.7 87.1 241.6 88.5 242.4 89.9 243.2 91.3 243.9 92.7 244.7 94.1 245.5 95.5 246.2 96.9 247 98.3 247.7 99.8 248.4 101.2 249.1 102.6 249.8 104.1 250.5 105.5 251.1 107 251.8 108.5 252.4 110 253.1 111.6 253.8 113.5 254.6 115.7 255.6 118.4 256.6 121.6 257.8 125.5 259 130.1 260.2 135.4 261.4 141.5 262.4 148.2 263.1 155.6 263.4 163.2 263.4 170.8 263 178" stroke="#e4ea14" stroke-width="2.4" fill="none" stroke-linejoin="round" stroke-linecap="round" />
<path d="M60 22.3h0M61.6 22.3h0M63.2 22.3h0M64.9 22.3h0M66.5 22.3h0M68.1 22.3h0M69.8 22.3h0M71.4 22.3h0M73 22.3h0M74.6 22.3h0M76.2 22.3h0M77.9 22.3h0M79.5 22.3h0M81.1 22.3h0M82.8 22.3h0M84.4 22.3h0M86 22.3h0M87.6 22.3h0M89.2 22.3h0M90.9 22.3h0M92.5 22.3h0M94.1 22.3h0M95.8 22.3h0M97.4 22.3h0M99 22.3h0M100.6 22.3h0M102.2 22.3h0M103.9 22.3h0M105.5 22.3h0M107.1 22.3h0M108.8 22.3h0M110.4 22.3h0M112 22.3h0M113.6 22.3h0M115.2 22.3h0M116.9 22.3h0M118.5 22.3h0M120.1 22.3h0M121.8 22.3h0M123.4 22.3h0M125 22.3h0M126.6 22.3h0M128.2 22.3h0M129.9 22.3h0M131.5 22.3h0M133.1 22.3h0M134.8 22.3h0M136.4 22.3h0M138 22.3h0M139.6 22.3h0M141.2 22.3h0M142.9 22.3h0M144.5 22.3h0M146.1 22.3h0M147.8 22.3h0M149.4 22.3h0M151 22.3h0M152.6 22.3h0M154.2 22.3h0M155.9 22.3h0M157.5 22.3h0M159.1 22.3h0M160.8 22.3h0M162.4 22.3h0M164 22.3h0M165.6 22.3h0M167.2 22.3h0M168.9 22.3h0M170.5 22.3h0M172.1 22.3h0M173.8 22.3h0M175.4 22.3h0M177 22.3h0M178.6 22.3h0M180.2 22.3h0M181.9 22.3h0M183.5 22.3h0M185.1 22.3h0M186.8 22.3h0M188.4 22.3h0M190 22.3h0M191.6 22.3h0M193.2 22.3h0M194.9 22.3h0M196.5 22.3h0M197.3 23.7h0M198.2 25h0M199.1 26.4h0M199.9 27.7h0M200.8 29.1h0M201.7 30.4h0M202.6 31.7h0M203.5 33.1h0M204.4 34.4h0M205.3 35.7h0M206.2 37h0M207.1 38.3h0M208 39.7h0M208.9 41h0M209.9 42.3h0M210.8 43.6h0M211.7 44.9h0M212.6 46.2h0M213.6 47.5h0M214.5 48.8h0M215.4 50.1h0M216.4 51.4h0M217.3 52.7h0M218.3 54h0M219.2 55.3h0M220.1 56.6h0M221.1 57.9h0M222 59.2h0M222.9 60.5h0M223.9 61.8h0M224.8 63.1h0M225.7 64.4h0M226.6 65.7h0M227.6 67h0M228.5 68.4h0M229.4 69.7h0M230.3 71h0M231.2 72.3h0M232.1 73.6h0M233 75h0M233.9 76.3h0M234.8 77.6h0M235.6 79h0M236.5 80.3h0M237.4 81.7h0M238.2 83h0M239.1 84.4h0M239.9 85.8h0M240.7 87.1h0M241.6 88.5h0M242.4 89.9h0M243.2 91.3h0M243.9 92.7h0M244.7 94.1h0M245.5 95.5h0M246.2 96.9h0M247 98.3h0M247.7 99.8h0M248.4 101.2h0M249.1 102.6h0M249.8 104.1h0M250.5 105.5h0M251.1 107h0M251.8 108.5h0M252.4 110h0M253.1 111.6h0M253.8 113.5h0M254.6 115.7h0M255.6 118.4h0M256.6 121.6h0M257.8 125.5h0M259 130.1h0M260.2 135.4h0M261.4 141.5h0M262.4 148.2h0M263.1 155.6h0M263.4 163.2h0M263.4 170.8h0M263 178h0" stroke="#e4ea14" stroke-width="6.4" stroke-linecap="round" fill="none"/>
<path d="M263 178 264.2 226.6 265 204.9 265.8 188 266.8 183.3 267.9 192.7 268.4 202.2 269.5 191 270.6 207.5 271.4 175.2 272.7 197.9 273.8 225 274.6 203.9 275.7 211.4 276.9 184.6 278.2 167.6 279.2 179.4 280 183.2 280.9 188.2 282 196.1 283.2 232 284.2 213.1 285.4 172.6 286.2 204.3 287.1 194.9 288.2 188.7 289.2 204.8 290.4 194.9 291.3 187.7 292.3 194.5 293 194.3 293.7 191.4 294.6 193.4 295.9 266.1 296.6 216.6 297.7 171.6 298.4 199.8 299 234.3 299.8 171.9 300.6 269.3 301.2 179.9 302 185.4 302.5 207.7 303.4 223.6 304.1 289.2 305.3 189 306.6 217.6 307.1 211.8 308 228.1 308.6 178.8 309.7 195.4 310.4 169.9 311.1 167.5 312.3 207.6 312.9 177.4 314.2 181.1 314.8 216.3 315.8 201.4 316.6 204.1 317.4 181.8 318.6 191.8 319.5 230.9 320.3 208.1 321.1 180 321.7 205.5 323 191.2 323.9 227.2 324.6 204 325.2 224.2 326.2 188.5 326.9 189.2 327.9 230.5 328.5 173.2 329.3 177.2 330.1 171.9 331 179.9 332.2 195.4 332.9 183.5 334.1 172.6 335 202.1 336.2 222.7 337.3 236.6 338.2 186.8 339.4 208.9 340 187.8 340.6 196.6 341.5 215.7 342.4 174.3 343.1 166 343.9 200.4 344.9 206.1 345.4 252.2 346 236 346.7 186.3 347.6 248.2 348.1 218.2 348.7 204.6 349.4 186.9 350 172.1 351 196.4 351.9 184.4 352.4 171 353.5 193.5 354.2 212.6 354.9 230.2 355.9 206.7 356.9 212 357.5 196 358.1 210.7 358.8 186.1 359.4 200.5 360.5 198.9 361.3 227.1 362 207.8 363 198.2 364.2 172 365 188.8 365.6 171.7 366.8 168.9 367.7 208.5 368.9 203.1 370 185.7 370.7 231.4 371.3 174.9 372.3 216.4 373.1 177.1 374.4 168.5 375.2 212.4 375.9 210.4 376.9 179.6 377.7 256.4 378.8 267.9 379.3 221.8 380 199.9 381.2 182 381.8 191.9 382.6 205.8 383.3 195.3 384.4 190.3 384.9 197.9 385.7 253.5 386.4 217.4 387.1 195.3 388.2 185.9 388.8 186.3 389.7 184.8 390.8 178.2 391.9 182.8 392.9 190.4 393.7 184.5 394.4 255.5 395.6 215 396.9 191.5 397.4 168.2 398 168.3" stroke="#e4ea14" stroke-width="2.2" fill="none" stroke-linejoin="round" stroke-linecap="round" />
<path d="M263 178h0M264.2 226.6h0M265 204.9h0M265.8 188h0M266.8 183.3h0M267.9 192.7h0M268.4 202.2h0M269.5 191h0M270.6 207.5h0M271.4 175.2h0M272.7 197.9h0M273.8 225h0M274.6 203.9h0M275.7 211.4h0M276.9 184.6h0M278.2 167.6h0M279.2 179.4h0M280 183.2h0M280.9 188.2h0M282 196.1h0M283.2 232h0M284.2 213.1h0M285.4 172.6h0M286.2 204.3h0M287.1 194.9h0M288.2 188.7h0M289.2 204.8h0M290.4 194.9h0M291.3 187.7h0M292.3 194.5h0M293 194.3h0M293.7 191.4h0M294.6 193.4h0M295.9 266.1h0M296.6 216.6h0M297.7 171.6h0M298.4 199.8h0M299 234.3h0M299.8 171.9h0M300.6 269.3h0M301.2 179.9h0M302 185.4h0M302.5 207.7h0M303.4 223.6h0M305.3 189h0M306.6 217.6h0M307.1 211.8h0M308 228.1h0M308.6 178.8h0M309.7 195.4h0M310.4 169.9h0M311.1 167.5h0M312.3 207.6h0M312.9 177.4h0M314.2 181.1h0M314.8 216.3h0M315.8 201.4h0M316.6 204.1h0M317.4 181.8h0M318.6 191.8h0M319.5 230.9h0M320.3 208.1h0M321.1 180h0M321.7 205.5h0M323 191.2h0M323.9 227.2h0M324.6 204h0M325.2 224.2h0M326.2 188.5h0M326.9 189.2h0M327.9 230.5h0M328.5 173.2h0M329.3 177.2h0M330.1 171.9h0M331 179.9h0M332.2 195.4h0M332.9 183.5h0M334.1 172.6h0M335 202.1h0M336.2 222.7h0M337.3 236.6h0M338.2 186.8h0M339.4 208.9h0M340 187.8h0M340.6 196.6h0M341.5 215.7h0M342.4 174.3h0M343.1 166h0M343.9 200.4h0M344.9 206.1h0M345.4 252.2h0M346 236h0M346.7 186.3h0M347.6 248.2h0M348.1 218.2h0M348.7 204.6h0M349.4 186.9h0M350 172.1h0M351 196.4h0M351.9 184.4h0M352.4 171h0M353.5 193.5h0M354.2 212.6h0M354.9 230.2h0M355.9 206.7h0M356.9 212h0M357.5 196h0M358.1 210.7h0M358.8 186.1h0M359.4 200.5h0M360.5 198.9h0M361.3 227.1h0M362 207.8h0M363 198.2h0M364.2 172h0M365 188.8h0M365.6 171.7h0M366.8 168.9h0M367.7 208.5h0M368.9 203.1h0M370 185.7h0M370.7 231.4h0M371.3 174.9h0M372.3 216.4h0M373.1 177.1h0M374.4 168.5h0M375.2 212.4h0M375.9 210.4h0M376.9 179.6h0M377.7 256.4h0M378.8 267.9h0M379.3 221.8h0M380 199.9h0M381.2 182h0M381.8 191.9h0M382.6 205.8h0M383.3 195.3h0M384.4 190.3h0M384.9 197.9h0M385.7 253.5h0M386.4 217.4h0M387.1 195.3h0M388.2 185.9h0M388.8 186.3h0M389.7 184.8h0M390.8 178.2h0M391.9 182.8h0M392.9 190.4h0M393.7 184.5h0M394.4 255.5h0M395.6 215h0M396.9 191.5h0M397.4 168.2h0M398 168.3h0" stroke="#e4ea14" stroke-width="6.2" stroke-linecap="round" fill="none"/>
<path d="M60 22.3 61.6 22.3 63.2 22.3 64.9 22.3 66.5 22.3 68.1 22.3 69.7 22.3 71.3 22.3 73 22.3 74.6 22.3 76.2 22.3 77.8 22.3 79.4 22.3 81.1 22.3 82.7 22.3 84.3 22.3 85.9 22.3 87.5 22.3 89.2 22.3 90.8 22.3 92.4 22.3 94 22.3 95.6 22.3 97.3 22.3 98.9 22.3 100.5 22.3 102.1 22.3 103.7 22.3 105.4 22.3 107 22.3 108.6 22.3 110.2 22.3 111.8 22.3 113.5 22.3 115.1 22.3 116.7 22.3 118.3 22.3 119.9 22.3 121.6 22.3 123.2 22.3 124.8 22.3 126.4 22.3 128 22.3 129.7 22.3 131.3 22.3 132.9 22.3 134.5 22.3 136.1 22.3 137.8 22.3 139.4 22.3 141 22.3 142.6 22.3 144.2 22.3 145.9 22.3 147.5 22.3 149.1 22.3 150.7 22.3 152.3 22.3 154 22.3 155.6 22.3 157.2 22.3 158.8 22.3 160.4 22.3 162.1 22.3 163.7 22.3 165.3 22.3 166.9 22.3 168.5 22.3 170.2 22.3 171.8 22.3 173.4 22.3 175 22.3 176.6 22.3 178.3 22.3 179.9 22.3 181.5 22.3 183.1 22.3 184.7 22.3 186.4 22.3 188 22.3 189.6 22.3 191.2 22.3 192.8 22.3 194.5 22.3 196.1 22.3 197.7 22.3 199.3 22.3 200.9 22.3 202.6 22.3 204.2 22.3 205.8 22.3 207.4 22.3 209 22.3 210.7 22.3 212.3 22.3 213.9 22.3 215.5 22.3 217.1 22.3 218.8 22.3 220.4 22.3 222 22.3 223.3 23.3 224.5 24.3 225.8 25.3 227 26.3 228.2 27.3 229.4 28.4 230.7 29.4 231.9 30.5 233.1 31.5 234.3 32.6 235.4 33.7 236.6 34.8 237.8 35.9 238.9 37 240.1 38.1 241.2 39.2 242.4 40.4 243.5 41.5 244.6 42.6 245.7 43.8 246.8 45 247.9 46.1 249 47.3 250.1 48.5 251.1 49.7 252.2 50.9 253.2 52.1 254.3 53.3 255.3 54.6 256.3 55.8 257.3 57 258.3 58.3 259.3 59.5 260.3 60.8 261.3 62.1 262.3 63.4 263.2 64.6 264.2 65.9 265.1 67.2 266 68.5 267 69.8 267.9 71.2 268.8 72.5 269.7 73.8 270.5 75.2 271.4 76.5 272.3 77.8 273.1 79.2 274 80.6 274.8 81.9 275.6 83.3 276.4 84.7 277.2 86.1 278 87.5 278.8 88.9 279.5 90.3 280.3 91.7 281 93.1 281.8 94.5 282.5 96 283.2 97.4 283.9 98.9 284.6 100.3 285.3 101.8 285.9 103.2 286.6 104.7 287.2 106.1 287.9 107.6 288.5 109.1 289.1 110.8 289.8 112.4 290.6 114.5 291.4 116.8 292.4 119.4 293.4 122.4 294.4 125.9 295.6 129.9 296.8 134.6 298 139.8 299.2 145.9 300.2 152.7 301 159.8 301.4 167.4 301.5 175 301.2 182.4 300.6 189.4 300.5 190" stroke="#ff4808" stroke-width="2.4" fill="none" stroke-linejoin="round" stroke-linecap="round" />
<path d="M60 22.3h0M61.6 22.3h0M63.2 22.3h0M64.9 22.3h0M66.5 22.3h0M68.1 22.3h0M69.7 22.3h0M71.3 22.3h0M73 22.3h0M74.6 22.3h0M76.2 22.3h0M77.8 22.3h0M79.4 22.3h0M81.1 22.3h0M82.7 22.3h0M84.3 22.3h0M85.9 22.3h0M87.5 22.3h0M89.2 22.3h0M90.8 22.3h0M92.4 22.3h0M94 22.3h0M95.6 22.3h0M97.3 22.3h0M98.9 22.3h0M100.5 22.3h0M102.1 22.3h0M103.7 22.3h0M105.4 22.3h0M107 22.3h0M108.6 22.3h0M110.2 22.3h0M111.8 22.3h0M113.5 22.3h0M115.1 22.3h0M116.7 22.3h0M118.3 22.3h0M119.9 22.3h0M121.6 22.3h0M123.2 22.3h0M124.8 22.3h0M126.4 22.3h0M128 22.3h0M129.7 22.3h0M131.3 22.3h0M132.9 22.3h0M134.5 22.3h0M136.1 22.3h0M137.8 22.3h0M139.4 22.3h0M141 22.3h0M142.6 22.3h0M144.2 22.3h0M145.9 22.3h0M147.5 22.3h0M149.1 22.3h0M150.7 22.3h0M152.3 22.3h0M154 22.3h0M155.6 22.3h0M157.2 22.3h0M158.8 22.3h0M160.4 22.3h0M162.1 22.3h0M163.7 22.3h0M165.3 22.3h0M166.9 22.3h0M168.5 22.3h0M170.2 22.3h0M171.8 22.3h0M173.4 22.3h0M175 22.3h0M176.6 22.3h0M178.3 22.3h0M179.9 22.3h0M181.5 22.3h0M183.1 22.3h0M184.7 22.3h0M186.4 22.3h0M188 22.3h0M189.6 22.3h0M191.2 22.3h0M192.8 22.3h0M194.5 22.3h0M196.1 22.3h0M197.7 22.3h0M199.3 22.3h0M200.9 22.3h0M202.6 22.3h0M204.2 22.3h0M205.8 22.3h0M207.4 22.3h0M209 22.3h0M210.7 22.3h0M212.3 22.3h0M213.9 22.3h0M215.5 22.3h0M217.1 22.3h0M218.8 22.3h0M220.4 22.3h0M222 22.3h0M223.3 23.3h0M224.5 24.3h0M225.8 25.3h0M227 26.3h0M228.2 27.3h0M229.4 28.4h0M230.7 29.4h0M231.9 30.5h0M233.1 31.5h0M234.3 32.6h0M235.4 33.7h0M236.6 34.8h0M237.8 35.9h0M238.9 37h0M240.1 38.1h0M241.2 39.2h0M242.4 40.4h0M243.5 41.5h0M244.6 42.6h0M245.7 43.8h0M246.8 45h0M247.9 46.1h0M249 47.3h0M250.1 48.5h0M251.1 49.7h0M252.2 50.9h0M253.2 52.1h0M254.3 53.3h0M255.3 54.6h0M256.3 55.8h0M257.3 57h0M258.3 58.3h0M259.3 59.5h0M260.3 60.8h0M261.3 62.1h0M262.3 63.4h0M263.2 64.6h0M264.2 65.9h0M265.1 67.2h0M266 68.5h0M267 69.8h0M267.9 71.2h0M268.8 72.5h0M269.7 73.8h0M270.5 75.2h0M271.4 76.5h0M272.3 77.8h0M273.1 79.2h0M274 80.6h0M274.8 81.9h0M275.6 83.3h0M276.4 84.7h0M277.2 86.1h0M278 87.5h0M278.8 88.9h0M279.5 90.3h0M280.3 91.7h0M281 93.1h0M281.8 94.5h0M282.5 96h0M283.2 97.4h0M283.9 98.9h0M284.6 100.3h0M285.3 101.8h0M285.9 103.2h0M286.6 104.7h0M287.2 106.1h0M287.9 107.6h0M288.5 109.1h0M289.1 110.8h0M289.8 112.4h0M290.6 114.5h0M291.4 116.8h0M292.4 119.4h0M293.4 122.4h0M294.4 125.9h0M295.6 129.9h0M296.8 134.6h0M298 139.8h0M299.2 145.9h0M300.2 152.7h0M301 159.8h0M301.4 167.4h0M301.5 175h0M301.2 182.4h0M300.6 189.4h0M300.5 190h0" stroke="#ff4808" stroke-width="6.4" stroke-linecap="round" fill="none"/>
<path d="M300.5 190 301.1 220 302.1 196.1 302.8 206 303.5 195.1 304.7 212.2 305.9 218 306.8 210.3 307.7 221.3 308.9 206.2 309.9 195.3 311.1 214.5 312.3 221.7 313.3 182 314.5 201 315.4 194.8 315.9 208.1 317 268.3 318.3 190.9 318.9 206 319.7 197.7 320.8 194.5 321.5 186.8 322.6 205.1 323.8 201.9 324.7 188.8 325.4 196.1 326.6 231.5 327.2 197.3 327.9 227.4 328.6 206.9 329.9 163.2 330.5 194.4 331.7 199.3 332.5 168.8 333.3 197.5 334.1 190.6 334.9 265.2 336.2 248.2 336.7 191.8 338 162.1 338.7 252.3 339.8 222.4 340.4 227 341.4 176.9 342 177 343.3 186.5 344.3 192.1 345.3 196.3 346.1 193.6 346.9 222.4 348.1 185.4 349 168.2 350.2 192.2 351 172.4 351.8 198.2 352.9 211.1 353.4 167.7 354.4 168.4 355.6 176.1 356.7 211.8 357.5 193.7 358.1 238.9 358.8 209.3 359.5 227.3 360.2 171.5 361.4 198.7 362.1 205.9 363.4 190.3 364 202.2 364.7 178.4 365.9 164.5 366.4 219.2 367.1 209.3 368 180.7 368.8 162.4 369.6 187.4 370.2 184.5 370.8 220.2 372 189.8 373.2 256.5 374.3 225 375.1 191.9 375.8 212.7 376.5 194.9 377.4 175.2 378.5 217.8 379.2 175.5 380.3 219.7 381.6 172.5 382.2 175.9 383.5 202.4 384.5 197.1 385.7 173.7 386.8 214.2 388.1 176.8 389.1 209.9 390 206 391.3 184.4 392.3 182.3 393.1 214.3 393.9 188 395.1 193.4 396.2 227.5 397 172.1 397.7 243.2 398.4 180" stroke="#ff4808" stroke-width="2.2" fill="none" stroke-linejoin="round" stroke-linecap="round" />
<path d="M300.5 190h0M301.1 220h0M302.1 196.1h0M302.8 206h0M303.5 195.1h0M304.7 212.2h0M305.9 218h0M306.8 210.3h0M307.7 221.3h0M308.9 206.2h0M309.9 195.3h0M311.1 214.5h0M312.3 221.7h0M313.3 182h0M314.5 201h0M315.4 194.8h0M315.9 208.1h0M317 268.3h0M318.3 190.9h0M318.9 206h0M319.7 197.7h0M320.8 194.5h0M321.5 186.8h0M322.6 205.1h0M323.8 201.9h0M324.7 188.8h0M325.4 196.1h0M326.6 231.5h0M327.2 197.3h0M327.9 227.4h0M328.6 206.9h0M329.9 163.2h0M330.5 194.4h0M331.7 199.3h0M332.5 168.8h0M333.3 197.5h0M334.1 190.6h0M334.9 265.2h0M336.2 248.2h0M336.7 191.8h0M338 162.1h0M338.7 252.3h0M339.8 222.4h0M340.4 227h0M341.4 176.9h0M342 177h0M343.3 186.5h0M344.3 192.1h0M345.3 196.3h0M346.1 193.6h0M346.9 222.4h0M348.1 185.4h0M349 168.2h0M350.2 192.2h0M351 172.4h0M351.8 198.2h0M352.9 211.1h0M353.4 167.7h0M354.4 168.4h0M355.6 176.1h0M356.7 211.8h0M357.5 193.7h0M358.1 238.9h0M358.8 209.3h0M359.5 227.3h0M360.2 171.5h0M361.4 198.7h0M362.1 205.9h0M363.4 190.3h0M364 202.2h0M364.7 178.4h0M365.9 164.5h0M366.4 219.2h0M367.1 209.3h0M368 180.7h0M368.8 162.4h0M369.6 187.4h0M370.2 184.5h0M370.8 220.2h0M372 189.8h0M373.2 256.5h0M374.3 225h0M375.1 191.9h0M375.8 212.7h0M376.5 194.9h0M377.4 175.2h0M378.5 217.8h0M379.2 175.5h0M380.3 219.7h0M381.6 172.5h0M382.2 175.9h0M383.5 202.4h0M384.5 197.1h0M385.7 173.7h0M386.8 214.2h0M388.1 176.8h0M389.1 209.9h0M390 206h0M391.3 184.4h0M392.3 182.3h0M393.1 214.3h0M393.9 188h0M395.1 193.4h0M396.2 227.5h0M397 172.1h0M397.7 243.2h0M398.4 180h0" stroke="#ff4808" stroke-width="6.2" stroke-linecap="round" fill="none"/>
</g>
<rect x="71.3" y="17.9" width="323.6" height="260.4" fill="none" stroke="#2b2b2b" stroke-width="1.3"/>
<path d="M71.3 278.3h-5M71.3 227.1h-5M71.3 175.9h-5M71.3 124.7h-5M71.3 73.5h-5M71.3 22.3h-5" stroke="#2b2b2b" stroke-width="1.1" fill="none"/>
<path d="M71.3 262.9h-2.8M71.3 253.9h-2.8M71.3 247.5h-2.8M71.3 242.5h-2.8M71.3 238.5h-2.8M71.3 235h-2.8M71.3 232.1h-2.8M71.3 229.4h-2.8M71.3 211.7h-2.8M71.3 202.7h-2.8M71.3 196.3h-2.8M71.3 191.3h-2.8M71.3 187.3h-2.8M71.3 183.8h-2.8M71.3 180.9h-2.8M71.3 178.2h-2.8M71.3 160.5h-2.8M71.3 151.5h-2.8M71.3 145.1h-2.8M71.3 140.1h-2.8M71.3 136.1h-2.8M71.3 132.6h-2.8M71.3 129.7h-2.8M71.3 127h-2.8M71.3 109.3h-2.8M71.3 100.3h-2.8M71.3 93.9h-2.8M71.3 88.9h-2.8M71.3 84.9h-2.8M71.3 81.4h-2.8M71.3 78.5h-2.8M71.3 75.8h-2.8M71.3 58.1h-2.8M71.3 49.1h-2.8M71.3 42.7h-2.8M71.3 37.7h-2.8M71.3 33.7h-2.8M71.3 30.2h-2.8M71.3 27.3h-2.8M71.3 24.6h-2.8" stroke="#2b2b2b" stroke-width="0.9" fill="none"/>
<text x="61.6" y="282.6" font-size="10.5" text-anchor="end" fill="#0d0d0d">10<tspan font-size="6.8" dy="-4.6">-6</tspan></text>
<text x="61.6" y="231.4" font-size="10.5" text-anchor="end" fill="#0d0d0d">10<tspan font-size="6.8" dy="-4.6">-5</tspan></text>
<text x="61.6" y="180.2" font-size="10.5" text-anchor="end" fill="#0d0d0d">10<tspan font-size="6.8" dy="-4.6">-4</tspan></text>
<text x="61.6" y="129" font-size="10.5" text-anchor="end" fill="#0d0d0d">10<tspan font-size="6.8" dy="-4.6">-3</tspan></text>
<text x="61.6" y="77.8" font-size="10.5" text-anchor="end" fill="#0d0d0d">10<tspan font-size="6.8" dy="-4.6">-2</tspan></text>
<text x="61.6" y="26.6" font-size="10.5" text-anchor="end" fill="#0d0d0d">10<tspan font-size="6.8" dy="-4.6">-1</tspan></text>
<path d="M71.3 278.3v4.5M177.1 278.3v4.5M282.9 278.3v4.5M388.7 278.3v4.5" stroke="#2b2b2b" stroke-width="1.1" fill="none"/>
<path d="M124.2 278.3v2.5M230 278.3v2.5M335.8 278.3v2.5" stroke="#2b2b2b" stroke-width="1.1" fill="none"/>
<text x="71.3" y="295.8" font-size="10.5" text-anchor="middle" fill="#0d0d0d" >-4</text>
<text x="177.1" y="295.8" font-size="10.5" text-anchor="middle" fill="#0d0d0d" >-3</text>
<text x="282.9" y="295.8" font-size="10.5" text-anchor="middle" fill="#0d0d0d" >-2</text>
<text x="388.7" y="295.8" font-size="10.5" text-anchor="middle" fill="#0d0d0d" >-1</text>
<text x="233" y="316.8" font-size="13.2" text-anchor="middle" fill="#0d0d0d" >Vbg( V)</text>
<text transform="translate(31.5 145) rotate(-90)" font-size="13.2" text-anchor="middle" fill="#0d0d0d">σ(μS)</text>
<text x="326.5" y="43.5" font-size="13.45" text-anchor="start" fill="#0d0d0d" >Vtg<tspan font-size="9" dy="3.8">1</tspan><tspan dy="-3.8">=6 V</tspan></text>
<text x="26" y="19.8" font-size="15.5" text-anchor="start" font-weight="bold" fill="#000" >a</text>
<text x="100.4" y="114" font-size="13.65" text-anchor="start" fill="#0d0d0d" >Temperature(K):</text>
<path d="M108 132H139.7" stroke="#5812e4" stroke-width="2.2"/>
<circle cx="123.8" cy="132" r="3.1" fill="#5812e4"/>
<text x="143.2" y="136.7" font-size="13.2" text-anchor="start" fill="#0d0d0d" >80</text>
<path d="M108 148.6H139.7" stroke="#1888f2" stroke-width="2.2"/>
<circle cx="123.8" cy="148.6" r="3.1" fill="#1888f2"/>
<text x="143.2" y="153.3" font-size="13.2" text-anchor="start" fill="#0d0d0d" >120</text>
<path d="M108 165.2H139.7" stroke="#14ec8a" stroke-width="2.2"/>
<circle cx="123.8" cy="165.2" r="3.1" fill="#14ec8a"/>
<text x="143.2" y="169.9" font-size="13.2" text-anchor="start" fill="#0d0d0d" >160</text>
<path d="M108 181.8H139.7" stroke="#e4ea14" stroke-width="2.2"/>
<circle cx="123.8" cy="181.8" r="3.1" fill="#e4ea14"/>
<text x="143.2" y="186.5" font-size="13.2" text-anchor="start" fill="#0d0d0d" >200</text>
<path d="M108 198.4H139.7" stroke="#ff4808" stroke-width="2.2"/>
<circle cx="123.8" cy="198.4" r="3.1" fill="#ff4808"/>
<text x="143.2" y="203.1" font-size="13.2" text-anchor="start" fill="#0d0d0d" >250</text>
<g clip-path="url(#cb)">
<path d="M450 23.7 451.9 23.7 453.7 23.7 455.6 23.7 457.4 23.7 459.3 23.7 461.2 23.7 463 23.7 464.9 23.7 466.8 23.7 468.6 23.7 470.5 23.7 472.3 23.7 474.2 23.7 476.1 23.7 477.9 23.7 479.8 23.7 481.7 23.7 483.5 23.7 485.4 23.7 487.2 23.7 489.1 23.7 491 23.7 492.8 23.7 494.7 23.7 496.6 23.7 498.4 23.7 500.3 23.7 502.1 23.7 504 23.7 505.7 24.3 507.4 24.9 509.1 25.5 510.8 26.1 512.5 26.6 514.2 27.2 515.9 27.8 517.6 28.4 519.4 28.9 521.1 29.5 522.8 30 524.5 30.6 526.2 31.2 527.9 31.7 529.6 32.3 531.3 32.8 533.1 33.4 534.8 34 536.5 34.5 538.2 35.1 539.9 35.7 541.6 36.2 543.3 36.8 545 37.4 546.7 37.9 548.4 38.5 550.1 39.1 551.8 39.7 553.5 40.3 555.2 40.9 556.9 41.5 558.6 42.1 560.3 42.8 562 43.4 563.7 44 565.4 44.7 567 45.4 568.7 46 570.4 46.7 572.1 47.4 573.7 48.1 575.4 48.8 577 49.5 578.7 50.2 580.3 51 582 51.7 583.6 52.5 585.2 53.3 586.8 54.1 588.4 54.9 590 55.7 591.6 56.6 593.2 57.4 594.8 58.3 596.4 59.2 597.9 60.1 599.5 61 601 61.9 602.5 62.9 604 63.9 605.5 64.9 607 65.9 608.5 67 609.9 68 611.4 69.1 612.8 70.2 614.2 71.3 615.6 72.5 617 73.7 618.3 74.9 619.6 76.1 620.9 77.3 622.2 78.6 623.5 79.9 624.7 81.2 625.9 82.5 627.1 83.9 628.2 85.3 629.4 86.7 630.4 88.1 631.5 89.6 632.5 91.1 633.5 92.6 634.5 94.1 635.4 95.6 636.4 97.2 637.2 98.7 638.1 100.3 638.9 101.9 639.8 103.7 640.8 105.7 641.8 107.9 642.8 110.3 644 113.1 645.1 116 646.3 119.4 647.6 123 648.8 126.9 650 130.9 651.1 135.1 652.3 139.6 653.4 144.3 654.5 149.1 655.6 154 656.6 159.1 657.6 164.2 658.6 169.3 659.6 174.5 660.6 179.6 661.6 184.7 662.6 189.6 663.7 194.5 664.3 197 664.3 197 662.6 218.6 663.3 206.2 663.7 208.8 664.3 206.2 665.1 221.4 665.6 216.5 666.3 222.9 666.7 243 667.2 208.9 667.7 223.2 668.2 208.9 669.1 236.9 669.8 260.8 670.4 293.3 671.1 203 672 207.4 672.8 225.6 673.5 244.1 674.3 220.7 674.7 204.6 675.3 249.5 676.1 217.4 676.9 248.1 677.6 270.4 678.2 229.2 678.9 245.3 679.5 220.4 680.3 237.3 680.8 227.8 681.3 229.4 681.8 222.6 682.2 213.9 682.7 223.6 683.2 209.6 684 219.4 684.4 232.5 684.9 209.1 685.3 270.9 686.2 216.8 686.9 211.4 687.5 256.2 688.1 201.9 688.7 246.1 689.4 202.8 690.2 200.7 690.8 273.7 691.7 264.3 692.5 235.5 693.2 253.1 694.1 204.3 694.6 272.7 695.1 228.6 695.8 245.6 696.7 205.4 697.4 244.3 698.3 227.4 699.1 251.5 699.9 230.3 700.3 249 701.1 207 701.6 228.9 702.3 210.5 702.9 213 703.4 208.2 704.1 208.7 704.8 247.5 705.4 225.7 706.2 199.8 706.8 200 707.6 218.3 708.1 205 708.7 261.2 709.4 233.3 710 203.4 710.8 223.2 711.4 268.2 711.9 216.2 712.4 236.9 712.9 252.1 713.3 264 713.8 201.5 714.4 208.3 715.3 270.2 716.1 207.1 716.5 214 717.3 251.5 717.8 203.9 718.4 266 718.8 238.5 719.6 221 720.4 231.5 721.2 245.9 721.8 249.1 722.2 244.5 722.7 232.7 723.4 234.5 723.9 252.9 724.3 210.7 725.2 198.1 725.8 206.9 726.3 253 727 218.9 727.5 216.4 728.1 250.8 728.9 213.8 729.7 216.9 730.2 202 731 246.4 731.8 241.9 732.2 238.7 732.9 253.1 733.7 210.2 734.1 216.8 734.5 216.6 735.2 211 735.8 211.4 736.4 214.1 737.2 204.1 737.9 206.2 738.4 214.2 739.3 198.2 736.3 191 736.3 191 737.2 189.2 738.5 186.3 739.9 183.2 741.3 179.8 742.7 176.3 744.2 172.8 745.6 169.2 747 165.7 748.4 162.2 749.9 158.7 751.4 155.4 752.8 152.3 754.2 149.4 755.6 146.7 756.9 144.5 758.1 142.4 759.3 140.5 760.4 138.8 761.4 137.3 762.4 135.9 763.5 134.4 764.7 133 765.8 131.6 767 130.3 768.2 129 769.5 127.7 770.8 126.5 772.2 125.3 773.6 124.1 775 123 776.4 121.9 777.9 120.9 779.5 119.9 781 119" stroke="#5812e4" stroke-width="2.3" fill="none" stroke-linejoin="round" stroke-linecap="round" />
<path d="M450 23.7h0M451.9 23.7h0M453.7 23.7h0M455.6 23.7h0M457.4 23.7h0M459.3 23.7h0M461.2 23.7h0M463 23.7h0M464.9 23.7h0M466.8 23.7h0M468.6 23.7h0M470.5 23.7h0M472.3 23.7h0M474.2 23.7h0M476.1 23.7h0M477.9 23.7h0M479.8 23.7h0M481.7 23.7h0M483.5 23.7h0M485.4 23.7h0M487.2 23.7h0M489.1 23.7h0M491 23.7h0M492.8 23.7h0M494.7 23.7h0M496.6 23.7h0M498.4 23.7h0M500.3 23.7h0M502.1 23.7h0M504 23.7h0M505.7 24.3h0M507.4 24.9h0M509.1 25.5h0M510.8 26.1h0M512.5 26.6h0M514.2 27.2h0M515.9 27.8h0M517.6 28.4h0M519.4 28.9h0M521.1 29.5h0M522.8 30h0M524.5 30.6h0M526.2 31.2h0M527.9 31.7h0M529.6 32.3h0M531.3 32.8h0M533.1 33.4h0M534.8 34h0M536.5 34.5h0M538.2 35.1h0M539.9 35.7h0M541.6 36.2h0M543.3 36.8h0M545 37.4h0M546.7 37.9h0M548.4 38.5h0M550.1 39.1h0M551.8 39.7h0M553.5 40.3h0M555.2 40.9h0M556.9 41.5h0M558.6 42.1h0M560.3 42.8h0M562 43.4h0M563.7 44h0M565.4 44.7h0M567 45.4h0M568.7 46h0M570.4 46.7h0M572.1 47.4h0M573.7 48.1h0M575.4 48.8h0M577 49.5h0M578.7 50.2h0M580.3 51h0M582 51.7h0M583.6 52.5h0M585.2 53.3h0M586.8 54.1h0M588.4 54.9h0M590 55.7h0M591.6 56.6h0M593.2 57.4h0M594.8 58.3h0M596.4 59.2h0M597.9 60.1h0M599.5 61h0M601 61.9h0M602.5 62.9h0M604 63.9h0M605.5 64.9h0M607 65.9h0M608.5 67h0M609.9 68h0M611.4 69.1h0M612.8 70.2h0M614.2 71.3h0M615.6 72.5h0M617 73.7h0M618.3 74.9h0M619.6 76.1h0M620.9 77.3h0M622.2 78.6h0M623.5 79.9h0M624.7 81.2h0M625.9 82.5h0M627.1 83.9h0M628.2 85.3h0M629.4 86.7h0M630.4 88.1h0M631.5 89.6h0M632.5 91.1h0M633.5 92.6h0M634.5 94.1h0M635.4 95.6h0M636.4 97.2h0M637.2 98.7h0M638.1 100.3h0M638.9 101.9h0M639.8 103.7h0M640.8 105.7h0M641.8 107.9h0M642.8 110.3h0M644 113.1h0M645.1 116h0M646.3 119.4h0M647.6 123h0M648.8 126.9h0M650 130.9h0M651.1 135.1h0M652.3 139.6h0M653.4 144.3h0M654.5 149.1h0M655.6 154h0M656.6 159.1h0M657.6 164.2h0M658.6 169.3h0M659.6 174.5h0M660.6 179.6h0M661.6 184.7h0M662.6 189.6h0M663.7 194.5h0M664.3 197h0" stroke="#5812e4" stroke-width="7" stroke-linecap="round" fill="none"/>
<path d="M664.3 197h0M662.6 218.6h0M663.3 206.2h0M663.7 208.8h0M664.3 206.2h0M665.1 221.4h0M665.6 216.5h0M666.3 222.9h0M666.7 243h0M667.2 208.9h0M667.7 223.2h0M668.2 208.9h0M669.1 236.9h0M669.8 260.8h0M671.1 203h0M672 207.4h0M672.8 225.6h0M673.5 244.1h0M674.3 220.7h0M674.7 204.6h0M675.3 249.5h0M676.1 217.4h0M676.9 248.1h0M677.6 270.4h0M678.2 229.2h0M678.9 245.3h0M679.5 220.4h0M680.3 237.3h0M680.8 227.8h0M681.3 229.4h0M681.8 222.6h0M682.2 213.9h0M682.7 223.6h0M683.2 209.6h0M684 219.4h0M684.4 232.5h0M684.9 209.1h0M685.3 270.9h0M686.2 216.8h0M686.9 211.4h0M687.5 256.2h0M688.1 201.9h0M688.7 246.1h0M689.4 202.8h0M690.2 200.7h0M690.8 273.7h0M691.7 264.3h0M692.5 235.5h0M693.2 253.1h0M694.1 204.3h0M694.6 272.7h0M695.1 228.6h0M695.8 245.6h0M696.7 205.4h0M697.4 244.3h0M698.3 227.4h0M699.1 251.5h0M699.9 230.3h0M700.3 249h0M701.1 207h0M701.6 228.9h0M702.3 210.5h0M702.9 213h0M703.4 208.2h0M704.1 208.7h0M704.8 247.5h0M705.4 225.7h0M706.2 199.8h0M706.8 200h0M707.6 218.3h0M708.1 205h0M708.7 261.2h0M709.4 233.3h0M710 203.4h0M710.8 223.2h0M711.4 268.2h0M711.9 216.2h0M712.4 236.9h0M712.9 252.1h0M713.3 264h0M713.8 201.5h0M714.4 208.3h0M715.3 270.2h0M716.1 207.1h0M716.5 214h0M717.3 251.5h0M717.8 203.9h0M718.4 266h0M718.8 238.5h0M719.6 221h0M720.4 231.5h0M721.2 245.9h0M721.8 249.1h0M722.2 244.5h0M722.7 232.7h0M723.4 234.5h0M723.9 252.9h0M724.3 210.7h0M725.2 198.1h0M725.8 206.9h0M726.3 253h0M727 218.9h0M727.5 216.4h0M728.1 250.8h0M728.9 213.8h0M729.7 216.9h0M730.2 202h0M731 246.4h0M731.8 241.9h0M732.2 238.7h0M732.9 253.1h0M733.7 210.2h0M734.1 216.8h0M734.5 216.6h0M735.2 211h0M735.8 211.4h0M736.4 214.1h0M737.2 204.1h0M737.9 206.2h0M738.4 214.2h0M739.3 198.2h0M736.3 191h0" stroke="#5812e4" stroke-width="6.2" stroke-linecap="round" fill="none"/>
<path d="M736.3 191h0M737.2 189.2h0M738.5 186.3h0M739.9 183.2h0M741.3 179.8h0M742.7 176.3h0M744.2 172.8h0M745.6 169.2h0M747 165.7h0M748.4 162.2h0M749.9 158.7h0M751.4 155.4h0M752.8 152.3h0M754.2 149.4h0M755.6 146.7h0M756.9 144.5h0M758.1 142.4h0M759.3 140.5h0M760.4 138.8h0M761.4 137.3h0M762.4 135.9h0M763.5 134.4h0M764.7 133h0M765.8 131.6h0M767 130.3h0M768.2 129h0M769.5 127.7h0M770.8 126.5h0M772.2 125.3h0M773.6 124.1h0M775 123h0M776.4 121.9h0M777.9 120.9h0M779.5 119.9h0M781 119h0" stroke="#5812e4" stroke-width="7" stroke-linecap="round" fill="none"/>
<path d="M450 23.7 451.9 23.7 453.8 23.7 455.7 23.7 457.6 23.7 459.5 23.7 461.4 23.7 463.3 23.7 465.2 23.7 467.2 23.7 469.1 23.7 471 23.7 472.9 23.7 474.8 23.7 476.7 23.7 478.6 23.7 480.5 23.7 482.4 23.7 484.3 23.7 486.2 23.7 488.1 23.7 490 23.7 491.9 23.7 493.8 23.7 495.8 23.7 497.7 23.7 499.6 23.7 501.5 23.7 503.4 23.7 505.3 23.7 507.2 23.7 509.1 23.7 511 23.7 512.7 24.3 514.4 24.9 516.1 25.5 517.8 26.1 519.5 26.6 521.2 27.2 523 27.7 524.7 28.3 526.4 28.8 528.1 29.3 529.9 29.8 531.6 30.3 533.3 30.9 535 31.4 536.8 31.9 538.5 32.4 540.2 32.9 542 33.4 543.7 33.9 545.4 34.4 547.2 34.9 548.9 35.4 550.6 35.9 552.3 36.4 554.1 37 555.8 37.5 557.5 38 559.2 38.5 561 39.1 562.7 39.6 564.4 40.2 566.1 40.8 567.8 41.4 569.5 41.9 571.2 42.5 572.9 43.2 574.6 43.8 576.3 44.4 578 45.1 579.6 45.7 581.3 46.4 583 47.1 584.6 47.8 586.3 48.5 587.9 49.3 589.6 50 591.2 50.8 592.8 51.6 594.4 52.4 596 53.2 597.6 54.1 599.2 54.9 600.8 55.8 602.3 56.7 603.9 57.6 605.4 58.5 607 59.5 608.5 60.5 610 61.5 611.5 62.5 613 63.5 614.4 64.5 615.9 65.6 617.3 66.7 618.7 67.8 620.1 68.9 621.5 70.1 622.9 71.3 624.2 72.5 625.6 73.7 626.9 74.9 628.2 76.2 629.5 77.4 630.7 78.7 631.9 80.1 633.1 81.4 634.3 82.8 635.5 84.2 636.6 85.6 637.7 87 638.8 88.4 639.8 89.9 640.9 91.4 641.9 92.9 642.8 94.4 643.8 95.9 644.7 97.5 645.6 99 646.5 100.6 647.3 102.2 648.1 103.8 649 105.6 650 107.6 651 109.8 652 112.2 653.1 114.8 654.2 117.7 655.4 120.9 656.7 124.5 657.9 128.4 659.1 132.4 660.3 136.8 661.5 141.5 662.6 146.4 663.6 151.3 664.7 156.4 665.6 161.7 666.5 167 667.4 172.6 668.2 178.1 668.9 183.7 669.6 189.2 670.4 195 670.6 197 670.6 197 668.6 222.1 669.3 201.9 670.1 209.2 670.6 215.3 671.4 203.5 672.1 203.7 672.7 228 673.2 204.9 673.8 241.3 674.5 214.1 675.3 204.6 675.9 231.1 676.3 222.9 676.8 209.7 677.5 226.3 678.2 247.9 679 236.9 679.4 227.3 680.2 204.9 680.8 251.5 681.5 235.5 681.9 221.6 682.8 223.8 683.2 251.2 684 218.6 684.7 216 685.3 233.8 685.8 234.9 686.5 204.3 687.3 242.6 688 197.6 688.8 228.2 689.2 264.8 689.6 239.9 690.2 227.8 690.7 227.7 691.3 224 692.1 212.8 692.6 246.4 693.5 211.5 694.2 274.4 694.7 224.2 695.3 218.1 696.1 247.8 696.9 217.5 697.4 210.3 697.9 245.7 698.4 217.7 698.9 201.8 699.7 249.9 700.5 200.5 701 214.6 701.7 222.2 702.5 216.7 703.2 224.9 703.9 229.3 704.7 206.9 705.5 252.4 706 290.7 706.5 239.6 707 209.1 707.7 219.4 708.6 207.5 709.1 264 709.7 237.4 710.3 230.3 710.8 251.1 711.6 239.2 712.2 211.9 712.8 218.7 713.2 214.4 713.7 220.3 714.5 202.3 715.3 264.9 715.7 213.1 716.6 227.4 717.3 204.6 717.8 198.7 718.3 197.1 718.8 203.5 719.5 211.4 720 216 720.8 215.4 721.4 197.5 721.9 201.1 718.8 191 718.8 191 719.2 189.9 720.7 185.9 722.1 182.2 723.6 178.4 725.1 174.7 726.5 171.2 728 167.7 729.5 164.4 730.9 161.3 732.4 158.2 733.8 155.3 735.2 152.6 736.5 150.1 737.8 147.9 739 145.8 740.2 143.7 741.4 141.8 742.4 140.1 743.5 138.5 744.6 137 745.6 135.5 746.7 134 747.7 132.6 748.8 131.1 750 129.7 751.1 128.3 752.3 127 753.5 125.6 754.7 124.3 756 123 757.3 121.7 758.6 120.5 759.9 119.3 761.3 118.1 762.6 116.9 764 115.8 765.5 114.6 766.9 113.6 768.4 112.5 769.9 111.5 771.4 110.6 773 109.6 774.5 108.7 776.1 107.9 777.7 107 779.4 106.2 781 105.5" stroke="#1888f2" stroke-width="2.3" fill="none" stroke-linejoin="round" stroke-linecap="round" />
<path d="M450 23.7h0M451.9 23.7h0M453.8 23.7h0M455.7 23.7h0M457.6 23.7h0M459.5 23.7h0M461.4 23.7h0M463.3 23.7h0M465.2 23.7h0M467.2 23.7h0M469.1 23.7h0M471 23.7h0M472.9 23.7h0M474.8 23.7h0M476.7 23.7h0M478.6 23.7h0M480.5 23.7h0M482.4 23.7h0M484.3 23.7h0M486.2 23.7h0M488.1 23.7h0M490 23.7h0M491.9 23.7h0M493.8 23.7h0M495.8 23.7h0M497.7 23.7h0M499.6 23.7h0M501.5 23.7h0M503.4 23.7h0M505.3 23.7h0M507.2 23.7h0M509.1 23.7h0M511 23.7h0M512.7 24.3h0M514.4 24.9h0M516.1 25.5h0M517.8 26.1h0M519.5 26.6h0M521.2 27.2h0M523 27.7h0M524.7 28.3h0M526.4 28.8h0M528.1 29.3h0M529.9 29.8h0M531.6 30.3h0M533.3 30.9h0M535 31.4h0M536.8 31.9h0M538.5 32.4h0M540.2 32.9h0M542 33.4h0M543.7 33.9h0M545.4 34.4h0M547.2 34.9h0M548.9 35.4h0M550.6 35.9h0M552.3 36.4h0M554.1 37h0M555.8 37.5h0M557.5 38h0M559.2 38.5h0M561 39.1h0M562.7 39.6h0M564.4 40.2h0M566.1 40.8h0M567.8 41.4h0M569.5 41.9h0M571.2 42.5h0M572.9 43.2h0M574.6 43.8h0M576.3 44.4h0M578 45.1h0M579.6 45.7h0M581.3 46.4h0M583 47.1h0M584.6 47.8h0M586.3 48.5h0M587.9 49.3h0M589.6 50h0M591.2 50.8h0M592.8 51.6h0M594.4 52.4h0M596 53.2h0M597.6 54.1h0M599.2 54.9h0M600.8 55.8h0M602.3 56.7h0M603.9 57.6h0M605.4 58.5h0M607 59.5h0M608.5 60.5h0M610 61.5h0M611.5 62.5h0M613 63.5h0M614.4 64.5h0M615.9 65.6h0M617.3 66.7h0M618.7 67.8h0M620.1 68.9h0M621.5 70.1h0M622.9 71.3h0M624.2 72.5h0M625.6 73.7h0M626.9 74.9h0M628.2 76.2h0M629.5 77.4h0M630.7 78.7h0M631.9 80.1h0M633.1 81.4h0M634.3 82.8h0M635.5 84.2h0M636.6 85.6h0M637.7 87h0M638.8 88.4h0M639.8 89.9h0M640.9 91.4h0M641.9 92.9h0M642.8 94.4h0M643.8 95.9h0M644.7 97.5h0M645.6 99h0M646.5 100.6h0M647.3 102.2h0M648.1 103.8h0M649 105.6h0M650 107.6h0M651 109.8h0M652 112.2h0M653.1 114.8h0M654.2 117.7h0M655.4 120.9h0M656.7 124.5h0M657.9 128.4h0M659.1 132.4h0M660.3 136.8h0M661.5 141.5h0M662.6 146.4h0M663.6 151.3h0M664.7 156.4h0M665.6 161.7h0M666.5 167h0M667.4 172.6h0M668.2 178.1h0M668.9 183.7h0M669.6 189.2h0M670.4 195h0M670.6 197h0" stroke="#1888f2" stroke-width="7" stroke-linecap="round" fill="none"/>
<path d="M670.6 197h0M668.6 222.1h0M669.3 201.9h0M670.1 209.2h0M670.6 215.3h0M671.4 203.5h0M672.1 203.7h0M672.7 228h0M673.2 204.9h0M673.8 241.3h0M674.5 214.1h0M675.3 204.6h0M675.9 231.1h0M676.3 222.9h0M676.8 209.7h0M677.5 226.3h0M678.2 247.9h0M679 236.9h0M679.4 227.3h0M680.2 204.9h0M680.8 251.5h0M681.5 235.5h0M681.9 221.6h0M682.8 223.8h0M683.2 251.2h0M684 218.6h0M684.7 216h0M685.3 233.8h0M685.8 234.9h0M686.5 204.3h0M687.3 242.6h0M688 197.6h0M688.8 228.2h0M689.2 264.8h0M689.6 239.9h0M690.2 227.8h0M690.7 227.7h0M691.3 224h0M692.1 212.8h0M692.6 246.4h0M693.5 211.5h0M694.2 274.4h0M694.7 224.2h0M695.3 218.1h0M696.1 247.8h0M696.9 217.5h0M697.4 210.3h0M697.9 245.7h0M698.4 217.7h0M698.9 201.8h0M699.7 249.9h0M700.5 200.5h0M701 214.6h0M701.7 222.2h0M702.5 216.7h0M703.2 224.9h0M703.9 229.3h0M704.7 206.9h0M705.5 252.4h0M706.5 239.6h0M707 209.1h0M707.7 219.4h0M708.6 207.5h0M709.1 264h0M709.7 237.4h0M710.3 230.3h0M710.8 251.1h0M711.6 239.2h0M712.2 211.9h0M712.8 218.7h0M713.2 214.4h0M713.7 220.3h0M714.5 202.3h0M715.3 264.9h0M715.7 213.1h0M716.6 227.4h0M717.3 204.6h0M717.8 198.7h0M718.3 197.1h0M718.8 203.5h0M719.5 211.4h0M720 216h0M720.8 215.4h0M721.4 197.5h0M721.9 201.1h0M718.8 191h0" stroke="#1888f2" stroke-width="6.2" stroke-linecap="round" fill="none"/>
<path d="M718.8 191h0M719.2 189.9h0M720.7 185.9h0M722.1 182.2h0M723.6 178.4h0M725.1 174.7h0M726.5 171.2h0M728 167.7h0M729.5 164.4h0M730.9 161.3h0M732.4 158.2h0M733.8 155.3h0M735.2 152.6h0M736.5 150.1h0M737.8 147.9h0M739 145.8h0M740.2 143.7h0M741.4 141.8h0M742.4 140.1h0M743.5 138.5h0M744.6 137h0M745.6 135.5h0M746.7 134h0M747.7 132.6h0M748.8 131.1h0M750 129.7h0M751.1 128.3h0M752.3 127h0M753.5 125.6h0M754.7 124.3h0M756 123h0M757.3 121.7h0M758.6 120.5h0M759.9 119.3h0M761.3 118.1h0M762.6 116.9h0M764 115.8h0M765.5 114.6h0M766.9 113.6h0M768.4 112.5h0M769.9 111.5h0M771.4 110.6h0M773 109.6h0M774.5 108.7h0M776.1 107.9h0M777.7 107h0M779.4 106.2h0M781 105.5h0" stroke="#1888f2" stroke-width="7" stroke-linecap="round" fill="none"/>
<path d="M450 23.7 451.9 23.7 453.7 23.7 455.6 23.7 457.4 23.7 459.3 23.7 461.2 23.7 463 23.7 464.9 23.7 466.8 23.7 468.6 23.7 470.5 23.7 472.3 23.7 474.2 23.7 476.1 23.7 477.9 23.7 479.8 23.7 481.6 23.7 483.5 23.7 485.4 23.7 487.2 23.7 489.1 23.7 490.9 23.7 492.8 23.7 494.7 23.7 496.5 23.7 498.4 23.7 500.2 23.7 502.1 23.7 504 23.7 505.8 23.7 507.7 23.7 509.6 23.7 511.4 23.7 513.3 23.7 515.1 23.7 517 23.7 518.7 24.2 520.5 24.6 522.2 25.1 524 25.5 525.7 26 527.5 26.4 529.2 26.9 530.9 27.4 532.7 27.9 534.4 28.3 536.2 28.8 537.9 29.3 539.6 29.8 541.4 30.3 543.1 30.8 544.8 31.3 546.5 31.8 548.3 32.3 550 32.9 551.7 33.4 553.4 33.9 555.2 34.5 556.9 35 558.6 35.6 560.3 36.1 562 36.7 563.7 37.3 565.4 37.9 567.1 38.5 568.8 39.1 570.5 39.7 572.2 40.3 573.9 40.9 575.6 41.6 577.3 42.2 578.9 42.9 580.6 43.6 582.3 44.3 583.9 45 585.6 45.7 587.2 46.4 588.9 47.1 590.5 47.9 592.2 48.6 593.8 49.4 595.4 50.2 597 51 598.7 51.8 600.3 52.6 601.8 53.5 603.4 54.3 605 55.2 606.6 56.1 608.1 57 609.7 57.9 611.2 58.8 612.8 59.8 614.3 60.7 615.8 61.7 617.3 62.7 618.8 63.7 620.3 64.8 621.7 65.8 623.2 66.9 624.6 68 626 69.1 627.4 70.3 628.8 71.4 630.2 72.6 631.5 73.8 632.8 75 634.1 76.3 635.4 77.5 636.7 78.8 637.9 80.1 639.2 81.4 640.4 82.8 641.5 84.1 642.7 85.5 643.8 86.9 644.9 88.3 646 89.8 647 91.3 648.1 92.7 649.1 94.3 650 95.8 651 97.3 651.9 98.9 652.8 100.4 653.6 102 654.5 103.6 655.3 105.2 656.2 107 657.1 109 658.2 111.4 659.3 114 660.4 116.8 661.6 120 662.8 123.6 664 127.4 665.3 131.6 666.4 136 667.6 140.7 668.6 145.6 669.6 150.7 670.6 156 671.4 161.4 672.3 166.9 673.1 172.5 673.9 178 674.7 183.6 675.6 188.9 676.5 194.2 677 197 677 197 675.2 213.8 675.7 209.1 676.3 212.8 676.8 220.3 677.3 205.4 678 218.2 678.6 221 679.2 237.4 679.6 212 680.3 236.2 681 204.1 681.5 202.1 682.2 229.2 683 242.3 683.6 261 684.3 297.2 684.9 209 685.6 255.1 686.2 200.1 686.9 270.6 687.6 263.2 688.5 207.6 688.9 220.1 689.8 234.5 690.6 237.3 691.1 198.5 691.6 215.7 692.4 202.7 693 202.5 693.9 208.7 694.3 215.7 695 234.7 695.9 224 696.4 210.2 697 247.6 697.6 227.7 698.1 199 698.8 243.5 699.5 199.8 700.2 235.7 700.8 224.4 701.5 249.6 702.3 241.5 703.1 214.9 703.7 272.2 704.5 231.2 705.2 236.4 705.8 217.2 706.6 208.3 707.4 198.9 707.9 214 708.4 210.4 709.1 201.4 709.8 202.7 710.6 202.9 711.3 198.6 712.1 207.8 708.5 191 708.5 191 709.7 188 711.2 184.5 712.7 181 714.1 177.7 715.5 174.4 716.9 171.3 718.4 168.2 719.7 165.3 721.2 162.4 722.5 159.7 723.9 157.1 725.2 154.6 726.5 152.1 727.8 149.9 729 147.8 730.2 145.7 731.3 143.8 732.5 141.9 733.6 140.2 734.7 138.6 735.7 137.1 736.7 135.6 737.7 134.1 738.8 132.7 739.9 131.2 741 129.8 742.1 128.3 743.2 126.9 744.3 125.5 745.5 124.2 746.7 122.8 747.9 121.5 749.1 120.1 750.3 118.8 751.6 117.5 752.9 116.3 754.2 115 755.5 113.8 756.9 112.6 758.2 111.4 759.6 110.3 761 109.1 762.4 108 763.9 107 765.4 105.9 766.8 104.9 768.3 103.9 769.9 102.9 771.4 102 773 101.1 774.5 100.2 776.1 99.3 777.7 98.5 779.4 97.8 781 97" stroke="#14ec8a" stroke-width="2.3" fill="none" stroke-linejoin="round" stroke-linecap="round" />
<path d="M450 23.7h0M451.9 23.7h0M453.7 23.7h0M455.6 23.7h0M457.4 23.7h0M459.3 23.7h0M461.2 23.7h0M463 23.7h0M464.9 23.7h0M466.8 23.7h0M468.6 23.7h0M470.5 23.7h0M472.3 23.7h0M474.2 23.7h0M476.1 23.7h0M477.9 23.7h0M479.8 23.7h0M481.6 23.7h0M483.5 23.7h0M485.4 23.7h0M487.2 23.7h0M489.1 23.7h0M490.9 23.7h0M492.8 23.7h0M494.7 23.7h0M496.5 23.7h0M498.4 23.7h0M500.2 23.7h0M502.1 23.7h0M504 23.7h0M505.8 23.7h0M507.7 23.7h0M509.6 23.7h0M511.4 23.7h0M513.3 23.7h0M515.1 23.7h0M517 23.7h0M518.7 24.2h0M520.5 24.6h0M522.2 25.1h0M524 25.5h0M525.7 26h0M527.5 26.4h0M529.2 26.9h0M530.9 27.4h0M532.7 27.9h0M534.4 28.3h0M536.2 28.8h0M537.9 29.3h0M539.6 29.8h0M541.4 30.3h0M543.1 30.8h0M544.8 31.3h0M546.5 31.8h0M548.3 32.3h0M550 32.9h0M551.7 33.4h0M553.4 33.9h0M555.2 34.5h0M556.9 35h0M558.6 35.6h0M560.3 36.1h0M562 36.7h0M563.7 37.3h0M565.4 37.9h0M567.1 38.5h0M568.8 39.1h0M570.5 39.7h0M572.2 40.3h0M573.9 40.9h0M575.6 41.6h0M577.3 42.2h0M578.9 42.9h0M580.6 43.6h0M582.3 44.3h0M583.9 45h0M585.6 45.7h0M587.2 46.4h0M588.9 47.1h0M590.5 47.9h0M592.2 48.6h0M593.8 49.4h0M595.4 50.2h0M597 51h0M598.7 51.8h0M600.3 52.6h0M601.8 53.5h0M603.4 54.3h0M605 55.2h0M606.6 56.1h0M608.1 57h0M609.7 57.9h0M611.2 58.8h0M612.8 59.8h0M614.3 60.7h0M615.8 61.7h0M617.3 62.7h0M618.8 63.7h0M620.3 64.8h0M621.7 65.8h0M623.2 66.9h0M624.6 68h0M626 69.1h0M627.4 70.3h0M628.8 71.4h0M630.2 72.6h0M631.5 73.8h0M632.8 75h0M634.1 76.3h0M635.4 77.5h0M636.7 78.8h0M637.9 80.1h0M639.2 81.4h0M640.4 82.8h0M641.5 84.1h0M642.7 85.5h0M643.8 86.9h0M644.9 88.3h0M646 89.8h0M647 91.3h0M648.1 92.7h0M649.1 94.3h0M650 95.8h0M651 97.3h0M651.9 98.9h0M652.8 100.4h0M653.6 102h0M654.5 103.6h0M655.3 105.2h0M656.2 107h0M657.1 109h0M658.2 111.4h0M659.3 114h0M660.4 116.8h0M661.6 120h0M662.8 123.6h0M664 127.4h0M665.3 131.6h0M666.4 136h0M667.6 140.7h0M668.6 145.6h0M669.6 150.7h0M670.6 156h0M671.4 161.4h0M672.3 166.9h0M673.1 172.5h0M673.9 178h0M674.7 183.6h0M675.6 188.9h0M676.5 194.2h0M677 197h0" stroke="#14ec8a" stroke-width="7" stroke-linecap="round" fill="none"/>
<path d="M677 197h0M675.2 213.8h0M675.7 209.1h0M676.3 212.8h0M676.8 220.3h0M677.3 205.4h0M678 218.2h0M678.6 221h0M679.2 237.4h0M679.6 212h0M680.3 236.2h0M681 204.1h0M681.5 202.1h0M682.2 229.2h0M683 242.3h0M683.6 261h0M684.9 209h0M685.6 255.1h0M686.2 200.1h0M686.9 270.6h0M687.6 263.2h0M688.5 207.6h0M688.9 220.1h0M689.8 234.5h0M690.6 237.3h0M691.1 198.5h0M691.6 215.7h0M692.4 202.7h0M693 202.5h0M693.9 208.7h0M694.3 215.7h0M695 234.7h0M695.9 224h0M696.4 210.2h0M697 247.6h0M697.6 227.7h0M698.1 199h0M698.8 243.5h0M699.5 199.8h0M700.2 235.7h0M700.8 224.4h0M701.5 249.6h0M702.3 241.5h0M703.1 214.9h0M703.7 272.2h0M704.5 231.2h0M705.2 236.4h0M705.8 217.2h0M706.6 208.3h0M707.4 198.9h0M707.9 214h0M708.4 210.4h0M709.1 201.4h0M709.8 202.7h0M710.6 202.9h0M711.3 198.6h0M712.1 207.8h0M708.5 191h0" stroke="#14ec8a" stroke-width="6.2" stroke-linecap="round" fill="none"/>
<path d="M708.5 191h0M709.7 188h0M711.2 184.5h0M712.7 181h0M714.1 177.7h0M715.5 174.4h0M716.9 171.3h0M718.4 168.2h0M719.7 165.3h0M721.2 162.4h0M722.5 159.7h0M723.9 157.1h0M725.2 154.6h0M726.5 152.1h0M727.8 149.9h0M729 147.8h0M730.2 145.7h0M731.3 143.8h0M732.5 141.9h0M733.6 140.2h0M734.7 138.6h0M735.7 137.1h0M736.7 135.6h0M737.7 134.1h0M738.8 132.7h0M739.9 131.2h0M741 129.8h0M742.1 128.3h0M743.2 126.9h0M744.3 125.5h0M745.5 124.2h0M746.7 122.8h0M747.9 121.5h0M749.1 120.1h0M750.3 118.8h0M751.6 117.5h0M752.9 116.3h0M754.2 115h0M755.5 113.8h0M756.9 112.6h0M758.2 111.4h0M759.6 110.3h0M761 109.1h0M762.4 108h0M763.9 107h0M765.4 105.9h0M766.8 104.9h0M768.3 103.9h0M769.9 102.9h0M771.4 102h0M773 101.1h0M774.5 100.2h0M776.1 99.3h0M777.7 98.5h0M779.4 97.8h0M781 97h0" stroke="#14ec8a" stroke-width="7" stroke-linecap="round" fill="none"/>
<path d="M450 23.7 451.9 23.7 453.7 23.7 455.6 23.7 457.4 23.7 459.3 23.7 461.1 23.7 463 23.7 464.8 23.7 466.7 23.7 468.5 23.7 470.4 23.7 472.2 23.7 474.1 23.7 476 23.7 477.8 23.7 479.7 23.7 481.5 23.7 483.4 23.7 485.2 23.7 487.1 23.7 488.9 23.7 490.8 23.7 492.6 23.7 494.5 23.7 496.3 23.7 498.2 23.7 500 23.7 501.9 23.7 503.8 23.7 505.6 23.7 507.5 23.7 509.3 23.7 511.2 23.7 513 23.7 514.9 23.7 516.7 23.7 518.6 23.7 520.4 23.7 522.3 23.7 524.1 23.7 526 23.7 527.8 24 529.6 24.3 531.3 24.6 533.1 24.9 534.9 25.2 536.6 25.6 538.4 25.9 540.2 26.3 541.9 26.7 543.7 27.1 545.5 27.5 547.2 27.9 549 28.3 550.7 28.7 552.5 29.2 554.2 29.6 556 30.1 557.7 30.6 559.4 31.1 561.2 31.6 562.9 32.1 564.6 32.6 566.3 33.2 568 33.7 569.8 34.3 571.5 34.9 573.2 35.4 574.9 36 576.6 36.7 578.2 37.3 579.9 37.9 581.6 38.6 583.3 39.3 585 39.9 586.6 40.6 588.3 41.3 589.9 42.1 591.6 42.8 593.2 43.5 594.8 44.3 596.5 45.1 598.1 45.9 599.7 46.7 601.3 47.5 602.9 48.4 604.5 49.2 606.1 50.1 607.6 51 609.2 51.9 610.7 52.8 612.3 53.7 613.8 54.7 615.3 55.7 616.8 56.7 618.3 57.7 619.8 58.7 621.3 59.7 622.7 60.8 624.2 61.9 625.6 63 627 64.1 628.4 65.2 629.8 66.4 631.2 67.5 632.6 68.7 633.9 69.9 635.2 71.1 636.5 72.4 637.8 73.6 639.1 74.9 640.3 76.2 641.5 77.6 642.8 78.9 643.9 80.3 645.1 81.6 646.2 83 647.3 84.4 648.4 85.9 649.5 87.3 650.5 88.8 651.6 90.3 652.5 91.8 653.5 93.3 654.4 94.9 655.4 96.4 656.2 98 657.1 99.6 657.9 101.2 658.8 102.8 659.6 104.6 660.6 106.6 661.6 108.8 662.7 111.3 663.8 114.1 664.9 117.1 666.2 120.5 667.4 124.1 668.6 127.9 669.8 132 671 136.4 672.2 141.1 673.3 145.8 674.3 150.7 675.4 155.8 676.4 160.9 677.3 166.2 678.3 171.5 679.2 176.8 680 182.2 680.9 187.5 681.8 192.9 682.5 197 682.5 197 680.6 204.7 681.4 222.3 682 212.9 682.7 211.8 683.5 208.7 684.3 200.2 684.8 197.8 685.3 233.5 686.1 263.5 686.9 229.1 687.5 220.2 687.9 286.4 688.4 198.9 689.1 271.4 690 203.3 690.7 221.9 691.3 221.5 691.9 250.7 692.6 215.1 693.3 242 693.8 247.1 694.5 271.1 695 247.7 695.8 229.3 696.4 232.4 697 199.9 697.9 227.2 698.7 204.5 699.1 210.9 699.6 198.8 700.3 196.9 701.2 207.9 701.6 203 702.2 206 702.7 208.7 703.3 206.6 703.9 208.8 704.4 206.2 701 190 701 190 701.5 188.9 702.9 186.2 704.2 183.3 705.6 180.4 707 177.5 708.4 174.6 709.8 171.8 711.1 168.9 712.5 166 713.9 163.1 715.3 160.4 716.6 157.7 718 155 719.3 152.5 720.6 150.1 721.9 147.8 723.1 145.5 724.3 143.4 725.6 141.4 726.7 139.5 727.8 137.6 728.9 135.9 730 134.2 731 132.7 732 131.2 733.1 129.8 734.1 128.3 735.2 126.8 736.3 125.4 737.4 124 738.5 122.6 739.7 121.2 740.9 119.8 742.1 118.5 743.3 117.1 744.5 115.8 745.8 114.6 747.1 113.3 748.4 112.1 749.7 110.8 751.1 109.7 752.5 108.5 753.9 107.4 755.3 106.3 756.8 105.2 758.2 104.2 759.7 103.2 761.3 102.2 762.8 101.3 764.4 100.4 766 99.5 767.6 98.7 769.2 97.9 770.8 97.2 772.5 96.5 774.2 95.8 775.9 95.2 777.6 94.6 779.3 94 781 93.5" stroke="#e4ea14" stroke-width="2.3" fill="none" stroke-linejoin="round" stroke-linecap="round" />
<path d="M450 23.7h0M451.9 23.7h0M453.7 23.7h0M455.6 23.7h0M457.4 23.7h0M459.3 23.7h0M461.1 23.7h0M463 23.7h0M464.8 23.7h0M466.7 23.7h0M468.5 23.7h0M470.4 23.7h0M472.2 23.7h0M474.1 23.7h0M476 23.7h0M477.8 23.7h0M479.7 23.7h0M481.5 23.7h0M483.4 23.7h0M485.2 23.7h0M487.1 23.7h0M488.9 23.7h0M490.8 23.7h0M492.6 23.7h0M494.5 23.7h0M496.3 23.7h0M498.2 23.7h0M500 23.7h0M501.9 23.7h0M503.8 23.7h0M505.6 23.7h0M507.5 23.7h0M509.3 23.7h0M511.2 23.7h0M513 23.7h0M514.9 23.7h0M516.7 23.7h0M518.6 23.7h0M520.4 23.7h0M522.3 23.7h0M524.1 23.7h0M526 23.7h0M527.8 24h0M529.6 24.3h0M531.3 24.6h0M533.1 24.9h0M534.9 25.2h0M536.6 25.6h0M538.4 25.9h0M540.2 26.3h0M541.9 26.7h0M543.7 27.1h0M545.5 27.5h0M547.2 27.9h0M549 28.3h0M550.7 28.7h0M552.5 29.2h0M554.2 29.6h0M556 30.1h0M557.7 30.6h0M559.4 31.1h0M561.2 31.6h0M562.9 32.1h0M564.6 32.6h0M566.3 33.2h0M568 33.7h0M569.8 34.3h0M571.5 34.9h0M573.2 35.4h0M574.9 36h0M576.6 36.7h0M578.2 37.3h0M579.9 37.9h0M581.6 38.6h0M583.3 39.3h0M585 39.9h0M586.6 40.6h0M588.3 41.3h0M589.9 42.1h0M591.6 42.8h0M593.2 43.5h0M594.8 44.3h0M596.5 45.1h0M598.1 45.9h0M599.7 46.7h0M601.3 47.5h0M602.9 48.4h0M604.5 49.2h0M606.1 50.1h0M607.6 51h0M609.2 51.9h0M610.7 52.8h0M612.3 53.7h0M613.8 54.7h0M615.3 55.7h0M616.8 56.7h0M618.3 57.7h0M619.8 58.7h0M621.3 59.7h0M622.7 60.8h0M624.2 61.9h0M625.6 63h0M627 64.1h0M628.4 65.2h0M629.8 66.4h0M631.2 67.5h0M632.6 68.7h0M633.9 69.9h0M635.2 71.1h0M636.5 72.4h0M637.8 73.6h0M639.1 74.9h0M640.3 76.2h0M641.5 77.6h0M642.8 78.9h0M643.9 80.3h0M645.1 81.6h0M646.2 83h0M647.3 84.4h0M648.4 85.9h0M649.5 87.3h0M650.5 88.8h0M651.6 90.3h0M652.5 91.8h0M653.5 93.3h0M654.4 94.9h0M655.4 96.4h0M656.2 98h0M657.1 99.6h0M657.9 101.2h0M658.8 102.8h0M659.6 104.6h0M660.6 106.6h0M661.6 108.8h0M662.7 111.3h0M663.8 114.1h0M664.9 117.1h0M666.2 120.5h0M667.4 124.1h0M668.6 127.9h0M669.8 132h0M671 136.4h0M672.2 141.1h0M673.3 145.8h0M674.3 150.7h0M675.4 155.8h0M676.4 160.9h0M677.3 166.2h0M678.3 171.5h0M679.2 176.8h0M680 182.2h0M680.9 187.5h0M681.8 192.9h0M682.5 197h0" stroke="#e4ea14" stroke-width="7" stroke-linecap="round" fill="none"/>
<path d="M682.5 197h0M680.6 204.7h0M681.4 222.3h0M682 212.9h0M682.7 211.8h0M683.5 208.7h0M684.3 200.2h0M684.8 197.8h0M685.3 233.5h0M686.1 263.5h0M686.9 229.1h0M687.5 220.2h0M688.4 198.9h0M689.1 271.4h0M690 203.3h0M690.7 221.9h0M691.3 221.5h0M691.9 250.7h0M692.6 215.1h0M693.3 242h0M693.8 247.1h0M694.5 271.1h0M695 247.7h0M695.8 229.3h0M696.4 232.4h0M697 199.9h0M697.9 227.2h0M698.7 204.5h0M699.1 210.9h0M699.6 198.8h0M700.3 196.9h0M701.2 207.9h0M701.6 203h0M702.2 206h0M702.7 208.7h0M703.3 206.6h0M703.9 208.8h0M704.4 206.2h0M701 190h0" stroke="#e4ea14" stroke-width="6.2" stroke-linecap="round" fill="none"/>
<path d="M701 190h0M701.5 188.9h0M702.9 186.2h0M704.2 183.3h0M705.6 180.4h0M707 177.5h0M708.4 174.6h0M709.8 171.8h0M711.1 168.9h0M712.5 166h0M713.9 163.1h0M715.3 160.4h0M716.6 157.7h0M718 155h0M719.3 152.5h0M720.6 150.1h0M721.9 147.8h0M723.1 145.5h0M724.3 143.4h0M725.6 141.4h0M726.7 139.5h0M727.8 137.6h0M728.9 135.9h0M730 134.2h0M731 132.7h0M732 131.2h0M733.1 129.8h0M734.1 128.3h0M735.2 126.8h0M736.3 125.4h0M737.4 124h0M738.5 122.6h0M739.7 121.2h0M740.9 119.8h0M742.1 118.5h0M743.3 117.1h0M744.5 115.8h0M745.8 114.6h0M747.1 113.3h0M748.4 112.1h0M749.7 110.8h0M751.1 109.7h0M752.5 108.5h0M753.9 107.4h0M755.3 106.3h0M756.8 105.2h0M758.2 104.2h0M759.7 103.2h0M761.3 102.2h0M762.8 101.3h0M764.4 100.4h0M766 99.5h0M767.6 98.7h0M769.2 97.9h0M770.8 97.2h0M772.5 96.5h0M774.2 95.8h0M775.9 95.2h0M777.6 94.6h0M779.3 94h0M781 93.5h0" stroke="#e4ea14" stroke-width="7" stroke-linecap="round" fill="none"/>
<path d="M450 23.7 451.9 23.7 453.7 23.7 455.6 23.7 457.4 23.7 459.3 23.7 461.1 23.7 463 23.7 464.9 23.7 466.7 23.7 468.6 23.7 470.4 23.7 472.3 23.7 474.1 23.7 476 23.7 477.9 23.7 479.7 23.7 481.6 23.7 483.4 23.7 485.3 23.7 487.1 23.7 489 23.7 490.9 23.7 492.7 23.7 494.6 23.7 496.4 23.7 498.3 23.7 500.1 23.7 502 23.7 503.9 23.7 505.7 23.7 507.6 23.7 509.4 23.7 511.3 23.7 513.1 23.7 515 23.7 516.9 23.7 518.7 23.7 520.6 23.7 522.4 23.7 524.3 23.7 526.1 23.7 528 23.7 529.8 24 531.6 24.2 533.3 24.5 535.1 24.8 536.9 25.1 538.7 25.4 540.4 25.8 542.2 26.1 544 26.5 545.7 26.9 547.5 27.2 549.3 27.6 551 28 552.8 28.5 554.5 28.9 556.3 29.4 558 29.8 559.7 30.3 561.5 30.8 563.2 31.3 564.9 31.8 566.6 32.3 568.4 32.9 570.1 33.4 571.8 34 573.5 34.6 575.2 35.2 576.9 35.8 578.6 36.4 580.3 37 581.9 37.7 583.6 38.3 585.3 39 587 39.7 588.6 40.4 590.3 41.1 591.9 41.9 593.6 42.6 595.2 43.4 596.8 44.2 598.4 45 600 45.8 601.6 46.6 603.2 47.4 604.8 48.3 606.4 49.2 608 50 609.5 50.9 611.1 51.9 612.6 52.8 614.1 53.8 615.7 54.7 617.2 55.7 618.7 56.7 620.2 57.7 621.6 58.7 623.1 59.8 624.6 60.9 626 62 627.4 63.1 628.8 64.2 630.2 65.3 631.6 66.5 633 67.6 634.3 68.8 635.7 70 637 71.3 638.3 72.5 639.6 73.8 640.9 75 642.1 76.3 643.3 77.6 644.6 79 645.7 80.3 646.9 81.7 648.1 83.1 649.2 84.5 650.3 85.9 651.4 87.3 652.5 88.8 653.5 90.3 654.5 91.8 655.5 93.3 656.5 94.8 657.4 96.3 658.4 97.8 659.3 99.4 660.2 101 661 102.6 661.9 104.1 662.7 105.7 663.6 107.5 664.5 109.5 665.5 111.5 666.5 113.7 667.5 116.1 668.6 118.9 669.8 121.9 671 125.1 672.2 128.5 673.4 132.1 674.6 135.9 675.8 139.9 677 144.2 678.1 148.6 679.3 153.3 680.4 157.9 681.5 162.8 682.6 167.7 683.6 172.8 684.6 177.9 685.6 183 686 185 686 185 686 194.4 686.3 195.2 686.6 193.3 686.9 195 687.2 188.1 687.5 192.1 687.8 192.2 688.2 190.1 688.5 193.5 688.8 193.7 689.1 197.6 689.4 189.7 689.7 192 690 191 690.3 191.6 690.6 192.6 690.9 193.2 691.2 198.5 691.5 192.9 693 209 691.8 194.4 692.2 191.5 692.5 192 692.8 191.9 693.1 195 693.4 192.4 693.7 192.1 694 194.2 694.3 189.4 694.6 196.9 694.9 189.3 695.2 192.4 695.5 197.3 695.8 189.6 696.2 188.3 696.5 191.9 696.8 192.9 697.1 190.4 697.4 188.6 697.7 192.5 698 191.3 698 186 698 186 699.2 182.2 700.7 177.8 702.2 173.7 703.6 169.7 705.1 166 706.6 162.5 708 159.2 709.5 156.1 710.9 153.2 712.2 150.5 713.6 147.8 714.9 145.4 716.2 143.1 717.4 141 718.6 139.1 719.7 137.3 720.8 135.6 721.9 133.9 722.9 132.4 723.9 130.9 725 129.5 726.1 128 727.2 126.6 728.3 125.1 729.4 123.7 730.5 122.3 731.7 121 732.9 119.6 734.1 118.3 735.3 116.9 736.6 115.6 737.8 114.4 739.1 113.1 740.4 111.9 741.8 110.6 743.1 109.4 744.5 108.3 745.9 107.1 747.3 106 748.7 104.9 750.2 103.8 751.7 102.8 753.1 101.8 754.7 100.8 756.2 99.8 757.7 98.9 759.3 98 760.9 97.1 762.5 96.3 764.1 95.5 765.7 94.7 767.4 94 769 93.3 770.7 92.6 772.4 92 774.1 91.4 775.8 90.8 777.5 90.3 779.3 89.8 781 89.3" stroke="#ff4808" stroke-width="2.3" fill="none" stroke-linejoin="round" stroke-linecap="round" />
<path d="M450 23.7h0M451.9 23.7h0M453.7 23.7h0M455.6 23.7h0M457.4 23.7h0M459.3 23.7h0M461.1 23.7h0M463 23.7h0M464.9 23.7h0M466.7 23.7h0M468.6 23.7h0M470.4 23.7h0M472.3 23.7h0M474.1 23.7h0M476 23.7h0M477.9 23.7h0M479.7 23.7h0M481.6 23.7h0M483.4 23.7h0M485.3 23.7h0M487.1 23.7h0M489 23.7h0M490.9 23.7h0M492.7 23.7h0M494.6 23.7h0M496.4 23.7h0M498.3 23.7h0M500.1 23.7h0M502 23.7h0M503.9 23.7h0M505.7 23.7h0M507.6 23.7h0M509.4 23.7h0M511.3 23.7h0M513.1 23.7h0M515 23.7h0M516.9 23.7h0M518.7 23.7h0M520.6 23.7h0M522.4 23.7h0M524.3 23.7h0M526.1 23.7h0M528 23.7h0M529.8 24h0M531.6 24.2h0M533.3 24.5h0M535.1 24.8h0M536.9 25.1h0M538.7 25.4h0M540.4 25.8h0M542.2 26.1h0M544 26.5h0M545.7 26.9h0M547.5 27.2h0M549.3 27.6h0M551 28h0M552.8 28.5h0M554.5 28.9h0M556.3 29.4h0M558 29.8h0M559.7 30.3h0M561.5 30.8h0M563.2 31.3h0M564.9 31.8h0M566.6 32.3h0M568.4 32.9h0M570.1 33.4h0M571.8 34h0M573.5 34.6h0M575.2 35.2h0M576.9 35.8h0M578.6 36.4h0M580.3 37h0M581.9 37.7h0M583.6 38.3h0M585.3 39h0M587 39.7h0M588.6 40.4h0M590.3 41.1h0M591.9 41.9h0M593.6 42.6h0M595.2 43.4h0M596.8 44.2h0M598.4 45h0M600 45.8h0M601.6 46.6h0M603.2 47.4h0M604.8 48.3h0M606.4 49.2h0M608 50h0M609.5 50.9h0M611.1 51.9h0M612.6 52.8h0M614.1 53.8h0M615.7 54.7h0M617.2 55.7h0M618.7 56.7h0M620.2 57.7h0M621.6 58.7h0M623.1 59.8h0M624.6 60.9h0M626 62h0M627.4 63.1h0M628.8 64.2h0M630.2 65.3h0M631.6 66.5h0M633 67.6h0M634.3 68.8h0M635.7 70h0M637 71.3h0M638.3 72.5h0M639.6 73.8h0M640.9 75h0M642.1 76.3h0M643.3 77.6h0M644.6 79h0M645.7 80.3h0M646.9 81.7h0M648.1 83.1h0M649.2 84.5h0M650.3 85.9h0M651.4 87.3h0M652.5 88.8h0M653.5 90.3h0M654.5 91.8h0M655.5 93.3h0M656.5 94.8h0M657.4 96.3h0M658.4 97.8h0M659.3 99.4h0M660.2 101h0M661 102.6h0M661.9 104.1h0M662.7 105.7h0M663.6 107.5h0M664.5 109.5h0M665.5 111.5h0M666.5 113.7h0M667.5 116.1h0M668.6 118.9h0M669.8 121.9h0M671 125.1h0M672.2 128.5h0M673.4 132.1h0M674.6 135.9h0M675.8 139.9h0M677 144.2h0M678.1 148.6h0M679.3 153.3h0M680.4 157.9h0M681.5 162.8h0M682.6 167.7h0M683.6 172.8h0M684.6 177.9h0M685.6 183h0M686 185h0" stroke="#ff4808" stroke-width="7" stroke-linecap="round" fill="none"/>
<path d="M686 185h0M686 194.4h0M686.3 195.2h0M686.6 193.3h0M686.9 195h0M687.2 188.1h0M687.5 192.1h0M687.8 192.2h0M688.2 190.1h0M688.5 193.5h0M688.8 193.7h0M689.1 197.6h0M689.4 189.7h0M689.7 192h0M690 191h0M690.3 191.6h0M690.6 192.6h0M690.9 193.2h0M691.2 198.5h0M691.5 192.9h0M693 209h0M691.8 194.4h0M692.2 191.5h0M692.5 192h0M692.8 191.9h0M693.1 195h0M693.4 192.4h0M693.7 192.1h0M694 194.2h0M694.3 189.4h0M694.6 196.9h0M694.9 189.3h0M695.2 192.4h0M695.5 197.3h0M695.8 189.6h0M696.2 188.3h0M696.5 191.9h0M696.8 192.9h0M697.1 190.4h0M697.4 188.6h0M697.7 192.5h0M698 191.3h0M698 186h0" stroke="#ff4808" stroke-width="6.2" stroke-linecap="round" fill="none"/>
<path d="M698 186h0M699.2 182.2h0M700.7 177.8h0M702.2 173.7h0M703.6 169.7h0M705.1 166h0M706.6 162.5h0M708 159.2h0M709.5 156.1h0M710.9 153.2h0M712.2 150.5h0M713.6 147.8h0M714.9 145.4h0M716.2 143.1h0M717.4 141h0M718.6 139.1h0M719.7 137.3h0M720.8 135.6h0M721.9 133.9h0M722.9 132.4h0M723.9 130.9h0M725 129.5h0M726.1 128h0M727.2 126.6h0M728.3 125.1h0M729.4 123.7h0M730.5 122.3h0M731.7 121h0M732.9 119.6h0M734.1 118.3h0M735.3 116.9h0M736.6 115.6h0M737.8 114.4h0M739.1 113.1h0M740.4 111.9h0M741.8 110.6h0M743.1 109.4h0M744.5 108.3h0M745.9 107.1h0M747.3 106h0M748.7 104.9h0M750.2 103.8h0M751.7 102.8h0M753.1 101.8h0M754.7 100.8h0M756.2 99.8h0M757.7 98.9h0M759.3 98h0M760.9 97.1h0M762.5 96.3h0M764.1 95.5h0M765.7 94.7h0M767.4 94h0M769 93.3h0M770.7 92.6h0M772.4 92h0M774.1 91.4h0M775.8 90.8h0M777.5 90.3h0M779.3 89.8h0M781 89.3h0" stroke="#ff4808" stroke-width="7" stroke-linecap="round" fill="none"/>
</g>
<rect x="458.1" y="20.6" width="324.7" height="260.9" fill="none" stroke="#2b2b2b" stroke-width="1.3"/>
<path d="M458.1 281.5h-5M458.1 244.6h-5M458.1 207.7h-5M458.1 170.8h-5M458.1 133.9h-5M458.1 97h-5M458.1 60.1h-5M458.1 23.2h-5" stroke="#2b2b2b" stroke-width="1.1" fill="none"/>
<path d="M458.1 270.4h-2.8M458.1 263.9h-2.8M458.1 259.3h-2.8M458.1 255.7h-2.8M458.1 252.8h-2.8M458.1 250.3h-2.8M458.1 248.2h-2.8M458.1 246.3h-2.8M458.1 233.5h-2.8M458.1 227h-2.8M458.1 222.4h-2.8M458.1 218.8h-2.8M458.1 215.9h-2.8M458.1 213.4h-2.8M458.1 211.3h-2.8M458.1 209.4h-2.8M458.1 196.6h-2.8M458.1 190.1h-2.8M458.1 185.5h-2.8M458.1 181.9h-2.8M458.1 179h-2.8M458.1 176.5h-2.8M458.1 174.4h-2.8M458.1 172.5h-2.8M458.1 159.7h-2.8M458.1 153.2h-2.8M458.1 148.6h-2.8M458.1 145h-2.8M458.1 142.1h-2.8M458.1 139.6h-2.8M458.1 137.5h-2.8M458.1 135.6h-2.8M458.1 122.8h-2.8M458.1 116.3h-2.8M458.1 111.7h-2.8M458.1 108.1h-2.8M458.1 105.2h-2.8M458.1 102.7h-2.8M458.1 100.6h-2.8M458.1 98.7h-2.8M458.1 85.9h-2.8M458.1 79.4h-2.8M458.1 74.8h-2.8M458.1 71.2h-2.8M458.1 68.3h-2.8M458.1 65.8h-2.8M458.1 63.7h-2.8M458.1 61.8h-2.8M458.1 49h-2.8M458.1 42.5h-2.8M458.1 37.9h-2.8M458.1 34.3h-2.8M458.1 31.4h-2.8M458.1 28.9h-2.8M458.1 26.8h-2.8M458.1 24.9h-2.8" stroke="#2b2b2b" stroke-width="0.9" fill="none"/>
<text x="452.3" y="285.5" font-size="11.2" text-anchor="end" fill="#0d0d0d">10<tspan font-size="7.0" dy="-4.6">-6</tspan></text>
<text x="452.3" y="248.6" font-size="11.2" text-anchor="end" fill="#0d0d0d">10<tspan font-size="7.0" dy="-4.6">-5</tspan></text>
<text x="452.3" y="211.7" font-size="11.2" text-anchor="end" fill="#0d0d0d">10<tspan font-size="7.0" dy="-4.6">-4</tspan></text>
<text x="452.3" y="174.8" font-size="11.2" text-anchor="end" fill="#0d0d0d">10<tspan font-size="7.0" dy="-4.6">-3</tspan></text>
<text x="452.3" y="137.9" font-size="11.2" text-anchor="end" fill="#0d0d0d">10<tspan font-size="7.0" dy="-4.6">-2</tspan></text>
<text x="452.3" y="101" font-size="11.2" text-anchor="end" fill="#0d0d0d">10<tspan font-size="7.0" dy="-4.6">-1</tspan></text>
<text x="452.3" y="64.1" font-size="11.2" text-anchor="end" fill="#0d0d0d">10<tspan font-size="7.0" dy="-4.6">0</tspan></text>
<text x="452.3" y="27.2" font-size="11.2" text-anchor="end" fill="#0d0d0d">10<tspan font-size="7.0" dy="-4.6">1</tspan></text>
<path d="M458.1 281.5v4.5M565.3 281.5v4.5M672.5 281.5v4.5M779.7 281.5v4.5" stroke="#2b2b2b" stroke-width="1.1" fill="none"/>
<path d="M511.7 281.5v2.5M618.9 281.5v2.5M726.1 281.5v2.5" stroke="#2b2b2b" stroke-width="1.1" fill="none"/>
<text x="458.1" y="299.2" font-size="10.5" text-anchor="middle" fill="#0d0d0d" >-4</text>
<text x="565.3" y="299.2" font-size="10.5" text-anchor="middle" fill="#0d0d0d" >-2</text>
<text x="672.5" y="299.2" font-size="10.5" text-anchor="middle" fill="#0d0d0d" >0</text>
<text x="779.7" y="299.2" font-size="10.5" text-anchor="middle" fill="#0d0d0d" >2</text>
<text x="620.5" y="320.1" font-size="13.2" text-anchor="middle" fill="#0d0d0d" >Vbg(V)</text>
<text transform="translate(425.8 151.5) rotate(-90)" font-size="13.2" text-anchor="middle" fill="#0d0d0d">σ(μS)</text>
<text x="690" y="44.4" font-size="13.45" text-anchor="start" fill="#0d0d0d" >Without Vtg</text>
<text x="427" y="12.2" font-size="15.5" text-anchor="start" font-weight="bold" fill="#000" >b</text>
<text x="502.6" y="114" font-size="13.65" text-anchor="start" fill="#0d0d0d" >Temperature(K):</text>
<path d="M509.2 135.3H541.1" stroke="#5812e4" stroke-width="2.2"/>
<circle cx="525" cy="135.3" r="3.1" fill="#5812e4"/>
<text x="544.7" y="140" font-size="13.2" text-anchor="start" fill="#0d0d0d" >80</text>
<path d="M509.2 151.9H541.1" stroke="#1888f2" stroke-width="2.2"/>
<circle cx="525" cy="151.9" r="3.1" fill="#1888f2"/>
<text x="544.7" y="156.6" font-size="13.2" text-anchor="start" fill="#0d0d0d" >120</text>
<path d="M509.2 168.5H541.1" stroke="#14ec8a" stroke-width="2.2"/>
<circle cx="525" cy="168.5" r="3.1" fill="#14ec8a"/>
<text x="544.7" y="173.2" font-size="13.2" text-anchor="start" fill="#0d0d0d" >160</text>
<path d="M509.2 185.1H541.1" stroke="#e4ea14" stroke-width="2.2"/>
<circle cx="525" cy="185.1" r="3.1" fill="#e4ea14"/>
<text x="544.7" y="189.8" font-size="13.2" text-anchor="start" fill="#0d0d0d" >200</text>
<path d="M509.2 201.7H541.1" stroke="#ff4808" stroke-width="2.2"/>
<circle cx="525" cy="201.7" r="3.1" fill="#ff4808"/>
<text x="544.7" y="206.4" font-size="13.2" text-anchor="start" fill="#0d0d0d" >250</text>
<rect x="70.9" y="335.5" width="324.3" height="261.1" fill="none" stroke="#2b2b2b" stroke-width="1.3"/>
<path d="M70.9 584.7h-4.6M70.9 549.1h-4.6M70.9 513.5h-4.6M70.9 477.9h-4.6M70.9 442.3h-4.6M70.9 406.7h-4.6M70.9 371.1h-4.6M70.9 335.5h-4.6" stroke="#2b2b2b" stroke-width="1.1" fill="none"/>
<path d="M70.9 566.9h-2.6M70.9 531.3h-2.6M70.9 495.7h-2.6M70.9 460.1h-2.6M70.9 424.5h-2.6M70.9 388.9h-2.6M70.9 353.3h-2.6" stroke="#2b2b2b" stroke-width="1.0" fill="none"/>
<text x="62.8" y="588.5" font-size="10.8" text-anchor="end" fill="#0d0d0d" >45</text>
<text x="62.8" y="552.9" font-size="10.8" text-anchor="end" fill="#0d0d0d" >60</text>
<text x="62.8" y="517.3" font-size="10.8" text-anchor="end" fill="#0d0d0d" >75</text>
<text x="62.8" y="481.7" font-size="10.8" text-anchor="end" fill="#0d0d0d" >90</text>
<text x="62.8" y="446.1" font-size="10.8" text-anchor="end" fill="#0d0d0d" >105</text>
<text x="62.8" y="410.5" font-size="10.8" text-anchor="end" fill="#0d0d0d" >120</text>
<text x="62.8" y="374.9" font-size="10.8" text-anchor="end" fill="#0d0d0d" >135</text>
<text x="62.8" y="339.3" font-size="10.8" text-anchor="end" fill="#0d0d0d" >150</text>
<path d="M105.2 596.6v4.5M156.6 596.6v4.5M207.9 596.6v4.5M259.3 596.6v4.5M310.7 596.6v4.5M362.1 596.6v4.5" stroke="#2b2b2b" stroke-width="1.1" fill="none"/>
<path d="M79.5 596.6v2.6M130.9 596.6v2.6M182.2 596.6v2.6M233.6 596.6v2.6M285 596.6v2.6M336.4 596.6v2.6M387.8 596.6v2.6" stroke="#2b2b2b" stroke-width="1.0" fill="none"/>
<text x="105.2" y="613.9" font-size="10.8" text-anchor="middle" fill="#0d0d0d" >90</text>
<text x="156.6" y="613.9" font-size="10.8" text-anchor="middle" fill="#0d0d0d" >120</text>
<text x="207.9" y="613.9" font-size="10.8" text-anchor="middle" fill="#0d0d0d" >150</text>
<text x="259.3" y="613.9" font-size="10.8" text-anchor="middle" fill="#0d0d0d" >180</text>
<text x="310.7" y="613.9" font-size="10.8" text-anchor="middle" fill="#0d0d0d" >210</text>
<text x="362.1" y="613.9" font-size="10.8" text-anchor="middle" fill="#0d0d0d" >240</text>
<text x="233.6" y="624.7" font-size="13.5" text-anchor="middle" fill="#0d0d0d" >Temperature(K)</text>
<text transform="translate(35.5 465.4) rotate(-90)" font-size="13.5" text-anchor="middle" fill="#0d0d0d">SS(mv/dec)</text>
<text x="21.5" y="325.8" font-size="15.5" text-anchor="start" font-weight="bold" fill="#000" >c</text>
<g clip-path="url(#cc)">
<path d="M70.9 566.7H393" stroke="#111" stroke-width="2.8" stroke-dasharray="14 12" fill="none"/>
<path d="M78.7 494.1L362.8 344.3" stroke="#e3141c" stroke-width="2.8" stroke-dasharray="13.5 11.5" fill="none"/>
<path d="M88 504.3 156.6 434.9 225.1 384.8 293.6 363.7 379.2 344.7" stroke="#e3141c" stroke-width="1.0" fill="none" stroke-linejoin="round" stroke-linecap="round" />
<path d="M88 572.9 156.6 580 225.1 557.9 293.6 566.7 379.2 575" stroke="#555" stroke-width="1.0" fill="none" stroke-linejoin="round" stroke-linecap="round" />
<circle cx="88" cy="504.3" r="6.1" fill="#ee0f0f"/>
<circle cx="156.6" cy="434.9" r="6.1" fill="#ee0f0f"/>
<circle cx="225.1" cy="384.8" r="6.1" fill="#ee0f0f"/>
<circle cx="293.6" cy="363.7" r="6.1" fill="#ee0f0f"/>
<circle cx="379.2" cy="344.7" r="6.1" fill="#ee0f0f"/>
<circle cx="88" cy="572.9" r="6.1" fill="#050505"/>
<circle cx="156.6" cy="580" r="6.1" fill="#050505"/>
<circle cx="225.1" cy="557.9" r="6.1" fill="#050505"/>
<circle cx="293.6" cy="566.7" r="6.1" fill="#050505"/>
<circle cx="379.2" cy="575" r="6.1" fill="#050505"/>
</g>
<path d="M76.2 350.7H107.1" stroke="#333" stroke-width="1"/><circle cx="91.7" cy="350.7" r="6.1" fill="#050505"/>
<path d="M76.2 370.2H107.1" stroke="#e3141c" stroke-width="1"/><circle cx="91.7" cy="370.2" r="6.1" fill="#ee0f0f"/>
<text x="111.5" y="355.5" font-size="13.3" text-anchor="start" fill="#0d0d0d" >Vtg<tspan font-size="9" dy="3.8">1</tspan><tspan dy="-3.8">=6v</tspan></text>
<text x="111.5" y="375" font-size="13.3" text-anchor="start" fill="#0d0d0d" >Without Vtg</text>
<rect x="459.2" y="325.2" width="327.3" height="262.7" fill="none" stroke="#2b2b2b" stroke-width="1.3"/>
<path d="M459.2 545.3h-4.8M459.2 437.7h-4.8M459.2 330.1h-4.8" stroke="#2b2b2b" stroke-width="1.1" fill="none"/>
<path d="M459.2 577.7h-2.6M459.2 569.2h-2.6M459.2 562h-2.6M459.2 555.7h-2.6M459.2 550.2h-2.6M459.2 512.9h-2.6M459.2 494h-2.6M459.2 480.5h-2.6M459.2 470.1h-2.6M459.2 461.6h-2.6M459.2 454.4h-2.6M459.2 448.1h-2.6M459.2 442.6h-2.6M459.2 405.3h-2.6M459.2 386.4h-2.6M459.2 372.9h-2.6M459.2 362.5h-2.6M459.2 354h-2.6M459.2 346.8h-2.6M459.2 340.5h-2.6M459.2 335h-2.6" stroke="#2b2b2b" stroke-width="1.0" fill="none"/>
<text x="449.5" y="549.1" font-size="10.5" text-anchor="end" fill="#0d0d0d">10<tspan font-size="6.8" dy="-4.6">2</tspan></text>
<text x="449.5" y="441.5" font-size="10.5" text-anchor="end" fill="#0d0d0d">10<tspan font-size="6.8" dy="-4.6">3</tspan></text>
<text x="449.5" y="333.9" font-size="10.5" text-anchor="end" fill="#0d0d0d">10<tspan font-size="6.8" dy="-4.6">4</tspan></text>
<path d="M459.2 587.9v4.5M539.5 587.9v4.5M619.8 587.9v4.5M700.1 587.9v4.5M780.4 587.9v4.5" stroke="#2b2b2b" stroke-width="1.1" fill="none"/>
<path d="M483.4 587.9v2.6M497.5 587.9v2.6M507.5 587.9v2.6M515.3 587.9v2.6M521.7 587.9v2.6M527.1 587.9v2.6M531.7 587.9v2.6M535.8 587.9v2.6M563.7 587.9v2.6M577.8 587.9v2.6M587.8 587.9v2.6M595.6 587.9v2.6M602 587.9v2.6M607.4 587.9v2.6M612 587.9v2.6M616.1 587.9v2.6M644 587.9v2.6M658.1 587.9v2.6M668.1 587.9v2.6M675.9 587.9v2.6M682.3 587.9v2.6M687.7 587.9v2.6M692.3 587.9v2.6M696.4 587.9v2.6M724.3 587.9v2.6M738.4 587.9v2.6M748.4 587.9v2.6M756.2 587.9v2.6M762.6 587.9v2.6M768 587.9v2.6M772.6 587.9v2.6M776.7 587.9v2.6" stroke="#2b2b2b" stroke-width="1.0" fill="none"/>
<text x="459.7" y="607.6" font-size="10.5" text-anchor="middle" fill="#0d0d0d">10<tspan font-size="6.8" dy="-4.6">-11</tspan></text>
<text x="540" y="607.6" font-size="10.5" text-anchor="middle" fill="#0d0d0d">10<tspan font-size="6.8" dy="-4.6">-10</tspan></text>
<text x="620.3" y="607.6" font-size="10.5" text-anchor="middle" fill="#0d0d0d">10<tspan font-size="6.8" dy="-4.6">-9</tspan></text>
<text x="700.6" y="607.6" font-size="10.5" text-anchor="middle" fill="#0d0d0d">10<tspan font-size="6.8" dy="-4.6">-8</tspan></text>
<text x="780.9" y="607.6" font-size="10.5" text-anchor="middle" fill="#0d0d0d">10<tspan font-size="6.8" dy="-4.6">-7</tspan></text>
<text x="619.7" y="619.4" font-size="13.3" text-anchor="middle" fill="#0d0d0d" >I(A)</text>
<text transform="translate(427.3 452.9) rotate(-90)" font-size="13.5" text-anchor="middle" fill="#0d0d0d">SS(mV/dec)</text>
<text x="420" y="318.4" font-size="15.5" text-anchor="start" font-weight="bold" fill="#000" >d</text>
<g clip-path="url(#cd)">
<path d="M468 485.6 470.1 485.8 472.2 482.9 474.3 483.4 476.4 485 478.5 481.7 480.6 482.7 482.7 486 484.8 482.3 486.9 484.2 489 486.3 491.1 482.2 493.2 488.6 495.3 487.2 497.4 485.2 499.5 492.4 501.6 484.1 503.7 488.4 505.8 486.9 507.9 488.5 510 484.9 512.1 484.3 514.2 481.7 516.3 488.5 518.4 484.9 520.5 486 522.6 491.3 524.7 489.2 526.8 487.8 528.9 486.1 531 490.3 533.1 487.6 535.2 494.6 537.3 490 539.4 492 541.5 489.9 543.6 493.2 545.7 490.3 547.8 487.3 549.9 490.1 552 488.7 554.1 489.9 556.2 488.8 558.3 489.2 560.4 487.9 562.5 488.3 564.6 489.7 566.7 488.5 568.8 491.5 570.9 490.9 573 487.9 575.1 485.7 577.2 491.5 579.3 487 581.4 484.7 583.5 485.4 585.6 486.1 587.7 489.6 589.8 487.9 591.9 485.8 594 476.9 596.1 483.2 598.2 487.9 600 483.7 601.5 483.1 603 485.7 604.5 484.4 606 483 607.5 482.8 609 481 610.5 481.2 612 481.1 613.5 480.6 615 479.2 616.5 478.8 618 479.6 619.5 478.9 621 476 622.5 477.6 624 478.1 625.5 475.6 627 475.8 628.5 473.4 630 474.9 631.5 472.3 633 471.4 634.5 471.6 636 473.4 637.5 469.8 639 468.4 640.5 469.4 642 468.5 643.5 469.2 645 465.7 646.5 464.8 648 465.5 649.5 465.6 651 465 652.5 465.1 654 462.1 655.5 462.2 657 462.3 658.5 462.7 660 461.9 661.5 460.4 663 459.3 664.5 460.6 666 460.1 667.5 461.3 669 457.8 670.5 459 672 455.6 673.5 455.6 675 454.8 676.5 454.3 678 453.2 679.5 452.8 681 452.6 682.5 451.4 684 451.8 685.5 450.3 687 449.6 688.5 450.2 690 448.3 691.5 447.4 693 446.4 694.5 445.7 696 445.4 697.5 443.2 699 444.3 700.5 443.9 702 442.7 703.5 440.3 705 438.4 706.5 438.7 708 438.5 709.5 438.3 711 436.5 712.5 435.5 714 436.5 715.5 433.5 717 434.3 718.5 433.3 720 430.3 721.5 431 723 429.3 724.5 428.1 726 426.3 727.5 425.7 729 426.8 730.5 425.1 732 424.9 733.5 422.7 735 422.6 736.5 421.7 738 419.6 739.5 418.6 741 419.8 742.5 418.7 744 416.7 745.5 416.7 747 416.5 748.5 416.8 750 413.2 751.5 413.8 753 414.4 754.5 411.5 756 412 757.5 407.1 759 410.2 760.5 407.8 762 405.1 763.5 406.8 765 406.2 766.5 405.4 768 404.5 769.5 402.4 771 400.8 772.5 400.2 774 399.7 775.5 399.2 777 397.4 778.5 397 779.6 376.9 779.6 332.5" stroke="#ff3030" stroke-width="0.8" fill="none" stroke-linejoin="round" stroke-linecap="round" />
<path d="M468 485.6h0M470.1 485.8h0M472.2 482.9h0M474.3 483.4h0M476.4 485h0M478.5 481.7h0M480.6 482.7h0M482.7 486h0M484.8 482.3h0M486.9 484.2h0M489 486.3h0M491.1 482.2h0M493.2 488.6h0M495.3 487.2h0M497.4 485.2h0M499.5 492.4h0M501.6 484.1h0M503.7 488.4h0M505.8 486.9h0M507.9 488.5h0M510 484.9h0M512.1 484.3h0M514.2 481.7h0M516.3 488.5h0M518.4 484.9h0M520.5 486h0M522.6 491.3h0M524.7 489.2h0M526.8 487.8h0M528.9 486.1h0M531 490.3h0M533.1 487.6h0M535.2 494.6h0M537.3 490h0M539.4 492h0M541.5 489.9h0M543.6 493.2h0M545.7 490.3h0M547.8 487.3h0M549.9 490.1h0M552 488.7h0M554.1 489.9h0M556.2 488.8h0M558.3 489.2h0M560.4 487.9h0M562.5 488.3h0M564.6 489.7h0M566.7 488.5h0M568.8 491.5h0M570.9 490.9h0M573 487.9h0M575.1 485.7h0M577.2 491.5h0M579.3 487h0M581.4 484.7h0M583.5 485.4h0M585.6 486.1h0M587.7 489.6h0M589.8 487.9h0M591.9 485.8h0M594 476.9h0M596.1 483.2h0M598.2 487.9h0M600 483.7h0M601.5 483.1h0M603 485.7h0M604.5 484.4h0M606 483h0M607.5 482.8h0M609 481h0M610.5 481.2h0M612 481.1h0M613.5 480.6h0M615 479.2h0M616.5 478.8h0M618 479.6h0M619.5 478.9h0M621 476h0M622.5 477.6h0M624 478.1h0M625.5 475.6h0M627 475.8h0M628.5 473.4h0M630 474.9h0M631.5 472.3h0M633 471.4h0M634.5 471.6h0M636 473.4h0M637.5 469.8h0M639 468.4h0M640.5 469.4h0M642 468.5h0M643.5 469.2h0M645 465.7h0M646.5 464.8h0M648 465.5h0M649.5 465.6h0M651 465h0M652.5 465.1h0M654 462.1h0M655.5 462.2h0M657 462.3h0M658.5 462.7h0M660 461.9h0M661.5 460.4h0M663 459.3h0M664.5 460.6h0M666 460.1h0M667.5 461.3h0M669 457.8h0M670.5 459h0M672 455.6h0M673.5 455.6h0M675 454.8h0M676.5 454.3h0M678 453.2h0M679.5 452.8h0M681 452.6h0M682.5 451.4h0M684 451.8h0M685.5 450.3h0M687 449.6h0M688.5 450.2h0M690 448.3h0M691.5 447.4h0M693 446.4h0M694.5 445.7h0M696 445.4h0M697.5 443.2h0M699 444.3h0M700.5 443.9h0M702 442.7h0M703.5 440.3h0M705 438.4h0M706.5 438.7h0M708 438.5h0M709.5 438.3h0M711 436.5h0M712.5 435.5h0M714 436.5h0M715.5 433.5h0M717 434.3h0M718.5 433.3h0M720 430.3h0M721.5 431h0M723 429.3h0M724.5 428.1h0M726 426.3h0M727.5 425.7h0M729 426.8h0M730.5 425.1h0M732 424.9h0M733.5 422.7h0M735 422.6h0M736.5 421.7h0M738 419.6h0M739.5 418.6h0M741 419.8h0M742.5 418.7h0M744 416.7h0M745.5 416.7h0M747 416.5h0M748.5 416.8h0M750 413.2h0M751.5 413.8h0M753 414.4h0M754.5 411.5h0M756 412h0M757.5 407.1h0M759 410.2h0M760.5 407.8h0M762 405.1h0M763.5 406.8h0M765 406.2h0M766.5 405.4h0M768 404.5h0M769.5 402.4h0M771 400.8h0M772.5 400.2h0M774 399.7h0M775.5 399.2h0M777 397.4h0M778.5 397h0M779.6 376.9h0M779.6 332.5h0" stroke="#ee1111" stroke-width="6.8" stroke-linecap="round" fill="none"/>
<path d="M479.6 576 503 577 519.2 577.7 529.5 573.4 535.7 563.5 544.4 551.3 544.8 541.7 549.1 530.8 545.3 521.2 548.8 500.5 550.9 505.2 555.2 508.7 558.7 509.6 563.4 510.4 566.5 494.8 567.6 484.2 568.6 480.7 569.4 483.7 569.8 454.2 571.1 481.3 572.6 473.4 574.1 476.4 575.5 479.5 576.6 472.4 578.2 477 579.1 472.4 580.4 485 581.2 485 582.4 481.3 583.2 484 584.3 471.5 585.5 498.5 587.2 483.5 587.2 455 587.7 419.3 588.8 469.1 589.8 470.9 590.9 467.4 592.5 470.7 593.4 474.7 594.7 475.1 596.1 462.3 597.6 464.9 598 463 598.5 475.6 600.1 494 601.1 493.3 602.2 468.2 602.4 444.3 603.3 466.7 604.3 469.5 605.7 466.5 606.9 495 608.1 467 609.2 462.1 610 440.5 610.7 459.7 611.9 490.4 613.2 468.4 614.6 472.6 615.6 475.7 616.8 458.3 616.9 440 618.3 462.3 619.4 464.6 620.3 473.3 621.8 456.6 623.4 459.2 624.7 464.5 625.9 405.5 625.9 458.7 627 487.6 627.9 467.8 629.4 445.1 630.7 436 630.8 470 632.2 455.5 633.8 453.5 635.3 450.3 636 424 636.2 457.4 637.6 443.1 638.8 451.2 639.6 463.5 640.9 467.5 642.4 461.3 643.2 440.7 644 462.8 644.2 420.9 645.1 444.4 646.5 444.6 648.1 452.9 648.5 422.5 649 450.3 650 446.3 650.9 449.2 651.3 420.3 652.4 440.1 653.9 453.9 655 451.9 656.3 442.7 656.9 423.4 657.6 458.3 658.5 439.1 659.9 436.7 661.3 448.1 662 423.5 662.9 432.2 663.9 449.1 665.3 438.5 666.5 443.6 668 432 668.7 407.6 669.3 437.4 670.8 453 671.8 445 671.9 405.1 673.3 449.5 674.2 439.1 675.4 430.2 676.6 444.1 677.4 420.3 677.7 444.2 678.8 438.5 680.5 430.3 681.7 433.7 682.2 397.2 682.5 438.4 684 438.2 684.8 435.7 686.5 440.8 687.3 435.4 688.1 442.2 689.3 426.8 690.9 434.4 690.9 387.7 692 431.5 693.6 431 695.1 408.5 696.3 437.3 696.4 405.1 697.6 427.4" stroke="#3a3a3a" stroke-width="1.0" fill="none" stroke-linejoin="round" stroke-linecap="round" />
<path d="M479.6 576h0M503 577h0M519.2 577.7h0M529.5 573.4h0M535.7 563.5h0M544.4 551.3h0M544.8 541.7h0M549.1 530.8h0M545.3 521.2h0M548.8 500.5h0M550.9 505.2h0M555.2 508.7h0M558.7 509.6h0M563.4 510.4h0M566.5 494.8h0M567.6 484.2h0M568.6 480.7h0M569.4 483.7h0M569.8 454.2h0M571.1 481.3h0M572.6 473.4h0M574.1 476.4h0M575.5 479.5h0M576.6 472.4h0M578.2 477h0M579.1 472.4h0M580.4 485h0M581.2 485h0M582.4 481.3h0M583.2 484h0M584.3 471.5h0M585.5 498.5h0M587.2 483.5h0M587.2 455h0M587.7 419.3h0M588.8 469.1h0M589.8 470.9h0M590.9 467.4h0M592.5 470.7h0M593.4 474.7h0M594.7 475.1h0M596.1 462.3h0M597.6 464.9h0M598 463h0M598.5 475.6h0M600.1 494h0M601.1 493.3h0M602.2 468.2h0M602.4 444.3h0M603.3 466.7h0M604.3 469.5h0M605.7 466.5h0M606.9 495h0M608.1 467h0M609.2 462.1h0M610 440.5h0M610.7 459.7h0M611.9 490.4h0M613.2 468.4h0M614.6 472.6h0M615.6 475.7h0M616.8 458.3h0M616.9 440h0M618.3 462.3h0M619.4 464.6h0M620.3 473.3h0M621.8 456.6h0M623.4 459.2h0M624.7 464.5h0M625.9 405.5h0M625.9 458.7h0M627 487.6h0M627.9 467.8h0M629.4 445.1h0M630.7 436h0M630.8 470h0M632.2 455.5h0M633.8 453.5h0M635.3 450.3h0M636 424h0M636.2 457.4h0M637.6 443.1h0M638.8 451.2h0M639.6 463.5h0M640.9 467.5h0M642.4 461.3h0M643.2 440.7h0M644 462.8h0M644.2 420.9h0M645.1 444.4h0M646.5 444.6h0M648.1 452.9h0M648.5 422.5h0M649 450.3h0M650 446.3h0M650.9 449.2h0M651.3 420.3h0M652.4 440.1h0M653.9 453.9h0M655 451.9h0M656.3 442.7h0M656.9 423.4h0M657.6 458.3h0M658.5 439.1h0M659.9 436.7h0M661.3 448.1h0M662 423.5h0M662.9 432.2h0M663.9 449.1h0M665.3 438.5h0M666.5 443.6h0M668 432h0M668.7 407.6h0M669.3 437.4h0M670.8 453h0M671.8 445h0M671.9 405.1h0M673.3 449.5h0M674.2 439.1h0M675.4 430.2h0M676.6 444.1h0M677.4 420.3h0M677.7 444.2h0M678.8 438.5h0M680.5 430.3h0M681.7 433.7h0M682.2 397.2h0M682.5 438.4h0M684 438.2h0M684.8 435.7h0M686.5 440.8h0M687.3 435.4h0M688.1 442.2h0M689.3 426.8h0M690.9 434.4h0M690.9 387.7h0M692 431.5h0M693.6 431h0M695.1 408.5h0M696.3 437.3h0M696.4 405.1h0M697.6 427.4h0" stroke="#050505" stroke-width="6.6" stroke-linecap="round" fill="none"/>
</g>
<path d="M472.3 342H503.5" stroke="#444" stroke-width="1"/><circle cx="488.1" cy="342" r="3.3" fill="#050505"/>
<path d="M472.3 361.8H503.5" stroke="#e07070" stroke-width="1"/><circle cx="488.1" cy="361.8" r="3.3" fill="#ee1111"/>
<text x="507.7" y="346.9" font-size="13.4" text-anchor="start" fill="#0d0d0d" >Vtg<tspan font-size="9" dy="3.8">1</tspan><tspan dy="-3.8">=6 V</tspan></text>
<text x="507.7" y="366.7" font-size="13.3" text-anchor="start" fill="#0d0d0d" >Without Vtg</text>
</svg>
</body></html>
